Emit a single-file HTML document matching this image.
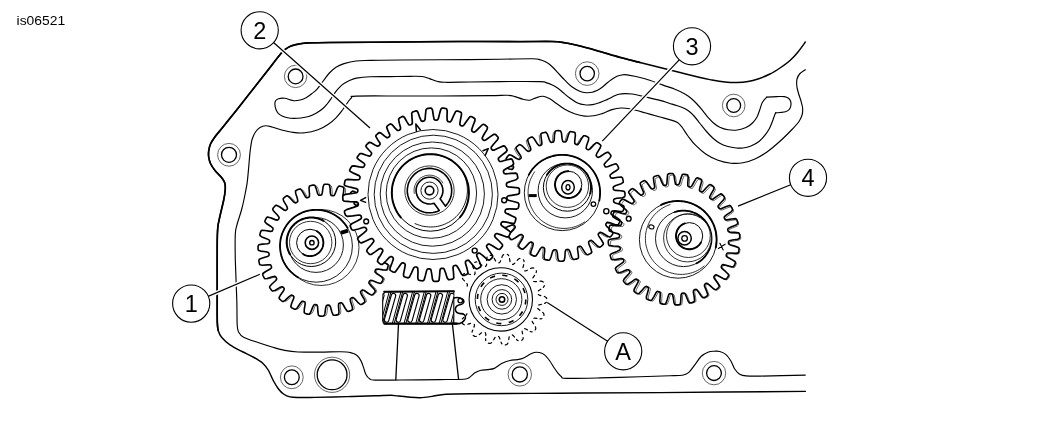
<!DOCTYPE html>
<html lang="en">
<head>
<meta charset="utf-8">
<title>is06521</title>
<style>
html,body{margin:0;padding:0;background:#fff;}
body{width:1049px;height:433px;overflow:hidden;font-family:"Liberation Sans",sans-serif;}
svg{display:block;}
</style>
</head>
<body>
<svg width="1049" height="433" viewBox="0 0 1049 433">
<defs><filter id="ga" x="-20%" y="-20%" width="140%" height="140%" color-interpolation-filters="sRGB"><feOffset dx="0" dy="0"/></filter></defs>
<rect width="1049" height="433" fill="#fff"/>
<g id="housing">
<path d="M805.3 42C804.1 43.7 800.5 48.9 798 52C795.5 55.1 793 57.8 790 60.5C787 63.2 783.3 65.8 780 68C776.7 70.2 773.7 72.2 770 74C766.3 75.8 761.7 77.8 758 79C754.3 80.2 751.5 80.9 748 81.5C744.5 82.1 740.8 82.4 737 82.5C733.2 82.6 729.2 82.4 725 82C720.8 81.6 716.2 80.8 712 80C707.8 79.2 705.3 78.8 700 77.5C694.7 76.2 686.7 74.2 680 72.5C673.3 70.8 666.7 69.2 660 67.5C653.3 65.8 646.7 64.2 640 62.5C633.3 60.8 626.7 59.2 620 57.4C613.3 55.6 606.3 53.3 600 51.5C593.7 49.7 587.7 47.9 582 46.5C576.3 45.1 571 43.8 566 43C561 42.2 559.7 41.7 552 41.5C544.3 41.3 535.4 41.6 520 41.6C504.6 41.6 479.5 41.4 459.5 41.5C439.5 41.6 421.6 41.8 400 42C378.4 42.2 345 42.4 330 42.5C315 42.6 315 42.6 310 42.8C305 43 303.2 43.3 300 43.8C296.8 44.3 293.5 45 291 46C288.5 47 286.8 48.2 285 49.5C283.2 50.8 283 51 280.5 54C278 57 273.4 63.1 270 67.5C266.6 71.9 265 73.9 260 80.3C255 86.7 245.8 98.3 240 105.7C234.2 113.1 229.2 119.2 225 124.5C220.8 129.8 216.9 134.2 214.5 137.5C212.1 140.8 211.5 141.8 210.5 144C209.5 146.2 209 148.8 208.7 151C208.4 153.2 208.4 154.9 208.7 157C209 159.1 209.4 161.2 210.5 163.5C211.6 165.8 213.2 168.2 215 170.5C216.8 172.8 219.9 175.4 221.5 177.5C223.1 179.6 224.2 180.9 224.8 183C225.4 185.1 225.4 187.2 225.2 190C225 192.8 224.6 195.7 223.7 200C222.8 204.3 221 211.4 220 216C219 220.6 218.3 222.7 217.8 227.5C217.3 232.3 217.3 233.8 217.2 245C217.1 256.2 217.2 282.2 217.2 295C217.2 307.8 217.1 316.1 217.3 322C217.5 327.9 217.4 327.9 218.2 330.5C218.9 333.1 219.8 335.1 221.8 337.5C223.8 339.9 226.6 342.5 230 344.8C233.4 347.1 238 349.4 242 351.5C246 353.6 250.5 355.5 254 357.5C257.5 359.5 260.6 361.3 263 363.5C265.4 365.7 266.8 367.6 268.5 370.5C270.2 373.4 271.8 377.9 273.5 381C275.2 384.1 276.8 386.8 278.5 389C280.2 391.2 281.6 392.7 283.5 394C285.4 395.3 287.2 396.3 290 396.9C292.8 397.5 295.8 397.4 300 397.5C304.2 397.6 307.2 397.5 315 397.4C322.8 397.2 337 396.9 347 396.6C357 396.3 367.7 396 375 395.8C382.3 395.6 387.3 395.3 391 395.3C394.7 395.3 394.2 395.6 397 395.9C399.8 396.2 404.2 396.7 408 397C411.8 397.3 416 397.8 420 397.7C424 397.6 427.7 397 432 396.4C436.3 395.8 439.7 394.6 446 394.2C452.3 393.8 451 394 470 393.8C489 393.6 528.3 393.4 560 393.2C591.7 393 619.1 392.9 660 392.6C700.9 392.3 781.1 391.6 805.3 391.4" fill="none" stroke="#000" stroke-width="1.45" stroke-linecap="round" stroke-linejoin="round" />
<path d="M640 62.5C636.7 61.6 626.7 59.2 620 57.4C613.3 55.6 606.3 53.3 600 51.5C593.7 49.7 587.7 47.9 582 46.5C576.3 45.1 571 43.8 566 43C561 42.2 559.7 41.7 552 41.5C544.3 41.3 535.4 41.6 520 41.6C504.6 41.6 479.5 41.4 459.5 41.5C439.5 41.6 421.6 41.8 400 42C378.4 42.2 345 42.4 330 42.5C315 42.6 315 42.6 310 42.8C305 43 303.2 43.3 300 43.8C296.8 44.3 293.5 45 291 46C288.5 47 286.8 48.2 285 49.5C283.2 50.8 283 51 280.5 54C278 57 273.4 63.1 270 67.5C266.6 71.9 265 73.9 260 80.3C255 86.7 245.8 98.3 240 105.7C234.2 113.1 229.2 119.2 225 124.5C220.8 129.8 216.9 134.2 214.5 137.5C212.1 140.8 211.5 141.8 210.5 144C209.5 146.2 209 148.8 208.7 151C208.4 153.2 208.4 154.9 208.7 157C209 159.1 209.4 161.2 210.5 163.5C211.6 165.8 213.2 168.2 215 170.5C216.8 172.8 219.9 175.4 221.5 177.5C223.1 179.6 224.2 180.9 224.8 183C225.4 185.1 225.4 187.2 225.2 190C225 192.8 224.6 195.7 223.7 200C222.8 204.3 221 211.4 220 216C219 220.6 218.3 222.7 217.8 227.5C217.3 232.3 217.3 233.8 217.2 245C217.1 256.2 217.2 282.2 217.2 295C217.2 307.8 217.1 316.1 217.3 322C217.5 327.9 218 329.1 218.2 330.5" fill="none" stroke="#000" stroke-width="1.7" stroke-linecap="round" stroke-linejoin="round" />
<path d="M805.3 69.7C804.4 70.3 801.4 72 800 73.5C798.6 75 797.5 76.9 797 79C796.5 81.1 796.6 83.7 796.8 86C797 88.3 797.7 90.5 798.4 93C799.1 95.5 800.3 98.5 801 101C801.7 103.5 802.4 105.8 802.6 108C802.8 110.2 802.8 112.2 802.2 114.5C801.6 116.8 800.7 119 799 121.5C797.3 124 795.3 126.1 792 129.5C788.7 132.9 783.6 138.1 779.4 141.8C775.2 145.6 771.1 149.1 767 152C762.9 154.9 759 157.2 755 159C751 160.8 747 162.1 743 162.8C739 163.5 735.2 163.6 731 163.2C726.8 162.8 722.2 161.8 718 160.3C713.8 158.8 709.5 156.5 705.7 154C702 151.5 698.5 148.2 695.5 145.2C692.5 142.2 690.2 138.9 688 136C685.8 133.1 684 129.8 682.3 127.5C680.5 125.2 679.6 123.8 677.5 122.5C675.4 121.2 672.4 120.5 669.5 119.6C666.6 118.7 664.1 118.1 660 117C655.9 115.9 650.1 114.2 645 112.8C639.9 111.4 633.6 109.6 629.6 108.8C625.6 108 623.9 107.9 621 108C618.1 108.1 615.1 108.7 612 109.6C608.9 110.5 605.2 112.6 602.2 113.6C599.2 114.6 596.9 115.4 594 115.8C591.1 116.2 588 116.4 584.7 116.1C581.5 115.8 577.8 114.9 574.5 113.8C571.2 112.7 567.8 111 564.8 109.3C561.8 107.6 559 105.2 556.5 103.5C554 101.8 552 100 549.8 98.8C547.5 97.6 545.2 96.5 543 96.3C540.8 96.1 538.7 96.9 536.5 97.6C534.3 98.2 532 99.9 529.8 100.2C527.5 100.5 525.5 99.9 523 99.3C520.5 98.7 517.6 97.3 515 96.6C512.4 95.9 511.6 95.5 507.4 95.3C503.2 95.1 501.2 95.5 490 95.6C478.8 95.7 455 95.9 440 96C425 96.1 414 96 400 96C386 96 364.1 95.8 356 96.1C347.9 96.4 352.8 96.7 351.5 97.7C350.2 98.7 349.5 100 348 102C346.5 104 344.5 107.4 342.5 110C340.5 112.6 338.4 115.4 336 117.8C333.6 120.2 331 122.5 328 124.5C325 126.5 321.9 128.4 318 129.8C314.1 131.2 309 132.4 304.8 132.8C300.6 133.2 296.9 132.9 293 132.4C289.1 131.9 285.1 130.9 281.6 130C278.1 129.1 274.7 127.7 272 127C269.3 126.3 267.5 125.7 265.5 125.8C263.5 125.9 261.7 126.6 260 127.6C258.3 128.6 256.8 130.1 255.5 132C254.2 133.9 253.1 136 252.2 139C251.3 142 250.9 145.4 250.3 149.9C249.7 154.4 249.3 160.6 248.8 166C248.3 171.4 247.9 177.1 247.2 182.3C246.5 187.5 245.4 192.4 244.5 197C243.6 201.6 242.7 205.5 241.5 210C240.3 214.5 238.2 220 237.2 224C236.2 228 235.6 228 235.3 234C235 240 235.1 249 235.3 260C235.6 271 236.5 289.2 236.8 300C237.1 310.8 236.9 319.7 237.2 325C237.5 330.3 237.5 330 238.6 332C239.7 334 240.4 335.4 243.6 337.2C246.8 338.9 253.3 340.9 258 342.5C262.7 344.1 267.6 345.7 272 347C276.4 348.3 280.4 349.6 284.7 350.4C289 351.2 292.1 351.7 298 352C303.9 352.3 312.9 352.1 320 352.1C327.1 352.1 335.7 351.7 340.8 351.8C345.9 351.9 347.8 352 350.5 352.6C353.2 353.2 355.1 353.9 356.8 355.3C358.6 356.7 359.9 358.9 361 360.9C362.1 362.9 362.7 365.1 363.5 367.4C364.3 369.7 364.9 372.6 365.9 374.5C366.9 376.4 368.1 377.9 369.6 378.8C371.1 379.7 369.7 379.9 374.8 380.1C379.9 380.3 389.1 380.1 400 380C410.9 379.9 429.3 379.7 440 379.6C450.7 379.5 459.2 379.5 464 379.2C468.8 378.9 467.2 378.8 469 377.7C470.8 376.6 472.9 374.1 474.9 372.8C476.9 371.6 478.8 370.7 481 370.2C483.2 369.7 485.8 369.9 488 369.6C490.2 369.3 492 369.4 494.3 368.4C496.6 367.4 499 364.8 501.6 363.5C504.2 362.2 507.4 361.1 510 360.5C512.6 359.9 514.8 360 517 359.6C519.2 359.2 520.7 359.3 523 358.3C525.3 357.3 528.8 354.8 531 353.8C533.2 352.8 534.3 352.2 536.2 352.2C538.1 352.2 540.8 352.8 542.5 353.6C544.2 354.4 545.2 355.5 546.5 356.8C547.8 358.1 548.7 359.3 550 361.2C551.3 363.1 552.9 365.9 554.3 368C555.7 370.1 557.1 372.1 558.3 373.6C559.5 375.1 560.2 376 561.5 376.8C562.8 377.6 559.6 378.2 566 378.4C572.4 378.6 587.7 378.2 600 377.9C612.3 377.6 628.3 377 640 376.7C651.7 376.4 663 376.1 670 375.8C677 375.6 679.2 375.7 682.3 375.2C685.4 374.7 686.5 374.3 688.6 372.6C690.7 370.9 692.7 367.6 694.8 364.9C696.9 362.2 698.7 358.6 701 356.5C703.3 354.4 706.2 352.9 708.5 352C710.8 351.1 712.6 351.3 714.5 351.2C716.4 351.1 717.9 350.9 719.8 351.5C721.7 352.1 724.1 353 726 354.6C727.9 356.2 729.5 358.8 731 361.2C732.5 363.6 733.2 366.8 734.7 369C736.2 371.2 737.8 373.1 739.7 374.2C741.6 375.3 742.6 375.6 746 375.9C749.4 376.2 750.1 376.2 760 376.1C769.9 376 797.8 375.3 805.3 375.1" fill="none" stroke="#000" stroke-width="1.15" stroke-linecap="round" stroke-linejoin="round" />
<path d="M766.7 97.1C768.4 97 774 96.7 777 96.6C780 96.5 782.5 96.3 784.4 96.6C786.3 96.9 787.5 97.5 788.5 98.3C789.5 99.1 790.3 100.3 790.7 101.5C791.1 102.7 791.1 104.2 790.9 105.5C790.7 106.8 790.2 108.2 789.3 109.3C788.4 110.3 787 111.3 785.5 111.8C784 112.3 781.6 112.3 780 112.5C778.4 112.7 776.3 112.8 775.6 112.8" fill="none" stroke="#000" stroke-width="1.15" stroke-linecap="round" stroke-linejoin="round" />
<path d="M775.6 112.8C775.3 113.5 774.6 115.4 774 117C773.4 118.6 772.8 120.5 772 122.5C771.2 124.5 770.5 126.6 769.3 128.7C768.1 130.8 766.7 133.1 765 135.2C763.3 137.3 761.3 139.7 759 141.5C756.7 143.3 753.7 144.9 751 146C748.3 147.1 745.5 147.7 743 148C740.5 148.3 738.9 148.3 736.2 148C733.5 147.7 729.7 147 727 146.2C724.3 145.4 722.1 144.5 719.8 143.2C717.5 141.9 715.5 140.4 713.3 138.5C711.1 136.6 708.7 134 706.5 131.5C704.3 129 702 126 700 123.5C698 121 696.3 118.5 694.5 116.5C692.7 114.5 690.8 112.7 689 111.3C687.2 109.9 685.4 108.9 683.5 108C681.6 107.1 679.8 106.6 677.4 105.8C675 105 671.9 104.1 669 103.2C666.1 102.3 664 101.5 660 100.4C656 99.3 649.7 97.9 645 96.8C640.3 95.7 635.4 94.5 632 94C628.6 93.5 626.8 93.6 624.6 93.6C622.4 93.6 620.6 93.8 619 94.2C617.4 94.6 616.7 94.9 614.7 95.8C612.7 96.7 609.5 98.5 607 99.6C604.5 100.7 602.1 101.8 599.7 102.6C597.3 103.4 595 104.2 592.5 104.6C590 105 587.3 105.1 584.7 104.8C582.1 104.5 579.5 103.8 577 102.7C574.5 101.6 572 99.7 569.7 98C567.4 96.3 565 94.2 563 92.5C561 90.8 559.3 89.2 557.5 88C555.7 86.8 554.2 85.9 552.3 85C550.4 84.1 548.1 83.2 546 82.6C543.9 82 547.5 81.8 539.8 81.6C532.1 81.4 511.6 81.5 500 81.6C488.4 81.7 479.2 81.9 470 82C460.8 82.1 450.5 82.4 445 82.3C439.5 82.2 439.6 81.9 437 81.3C434.4 80.7 432 79.4 429.5 78.6C427 77.8 425.2 76.9 422 76.5C418.8 76.1 415.3 76.3 410 76.3C404.7 76.3 396.7 76.5 390 76.6C383.3 76.7 375.6 76.5 370 76.8C364.4 77 359.8 77.5 356.4 78.1C353 78.7 351.6 79.6 349.5 80.5C347.4 81.4 345.7 82.5 344 83.6C342.3 84.7 340.9 85.9 339.5 87.3C338.1 88.7 336.9 90 335.6 91.8C334.3 93.6 332.9 96 331.5 98C330.1 100 328.9 101.8 327.5 103.5C326.1 105.2 325 106.7 323.2 108.3C321.4 109.9 318.9 111.6 316.5 113C314.1 114.4 311.2 115.7 308.6 116.5C306 117.3 303.4 117.7 301 118C298.6 118.3 296.2 118.4 294 118.4C291.8 118.4 289.4 118.2 287.5 117.8C285.6 117.4 284.1 117 282.6 116.3C281.1 115.6 279.6 114.8 278.5 113.7C277.4 112.6 276.6 111 276 109.5C275.4 108 275 106 274.9 104.5C274.8 103 275 101.8 275.6 100.8C276.2 99.8 277 99.1 278.5 98.7C280 98.3 282.1 98 284.7 98.3C287.3 98.6 291.3 100.5 294 100.7C296.7 101 298.9 100.3 301 99.8C303.1 99.3 304.7 98.5 306.5 97.5C308.3 96.5 310.3 94.9 312 93.5C313.7 92.1 315 91.4 316.9 89.3C318.8 87.2 321.1 83.7 323.2 81C325.3 78.3 327.3 75.3 329.4 73C331.5 70.7 333.6 68.9 336 67.3C338.4 65.7 340.7 64.7 344 63.6C347.3 62.6 351.7 61.5 356 61C360.3 60.5 362.7 60.6 370 60.4C377.3 60.2 388.3 60.1 400 60C411.7 59.9 423.3 59.9 440 59.8C456.7 59.7 484.6 59.4 500 59.2C515.4 59 525.5 58.7 532.3 58.8C539.1 58.9 538.5 59.3 541 60C543.5 60.7 545.3 61.5 547.3 62.8C549.3 64 551 65.6 553 67.5C555 69.4 557 71.9 559 74C561 76.1 562.7 78.1 564.8 80.2C566.9 82.3 569 84.7 571.5 86.5C574 88.3 577.3 90.2 579.7 91.2C582.1 92.2 583.9 92.5 586 92.7C588.1 92.9 590.3 92.7 592.2 92.3C594.1 91.9 595.8 91 597.5 90.2C599.2 89.4 600.5 88.5 602.2 87.2C604 85.9 605.9 83.8 608 82.2C610.1 80.6 612.6 78.6 614.7 77.4C616.8 76.2 618.4 75.6 620.5 75.2C622.6 74.8 623 74.3 627.1 74.9C631.2 75.5 639.1 77.1 645 78.8C650.9 80.5 657.4 83.2 662.4 84.9C667.4 86.7 671.2 87.8 675 89.3C678.8 90.8 682.2 92.5 684.9 94C687.6 95.5 689.1 96.6 691 98.2C692.9 99.8 694.6 101.5 696.5 103.5C698.4 105.5 700.4 107.9 702.3 110.2C704.2 112.5 706.1 115.2 708 117.3C709.9 119.4 711.5 121.3 713.5 123C715.5 124.7 717.4 126.2 719.8 127.3C722.2 128.4 725.1 129.4 728 129.8C730.9 130.2 734.3 130.4 737.3 130C740.3 129.6 743.5 128.7 746 127.5C748.5 126.3 750.7 124.8 752.5 123C754.3 121.2 755.8 119.2 757 117C758.2 114.8 758.8 112.4 759.7 110C760.6 107.6 761.1 104.7 762.3 102.5C763.5 100.3 766 98 766.7 97.1" fill="none" stroke="#000" stroke-width="1.15" stroke-linecap="round" stroke-linejoin="round" />
<circle cx="295.6" cy="76.4" r="11.2" fill="none" stroke="#000" stroke-width="0.6" />
<circle cx="295.6" cy="76.4" r="7.4" fill="none" stroke="#000" stroke-width="1.3" />
<circle cx="229" cy="154.8" r="11.4" fill="none" stroke="#000" stroke-width="0.6" />
<circle cx="229" cy="154.8" r="7.5" fill="none" stroke="#000" stroke-width="1.3" />
<circle cx="291.8" cy="377.3" r="11.4" fill="none" stroke="#000" stroke-width="0.6" />
<circle cx="291.8" cy="377.3" r="7.4" fill="none" stroke="#000" stroke-width="1.3" />
<circle cx="519.8" cy="374.4" r="11.7" fill="none" stroke="#000" stroke-width="0.6" />
<circle cx="519.8" cy="374.4" r="7.6" fill="none" stroke="#000" stroke-width="1.3" />
<circle cx="714" cy="373.1" r="11.7" fill="none" stroke="#000" stroke-width="0.6" />
<circle cx="714" cy="373.1" r="7.4" fill="none" stroke="#000" stroke-width="1.3" />
<circle cx="587.2" cy="73.6" r="11.8" fill="none" stroke="#000" stroke-width="0.6" />
<circle cx="587.2" cy="73.6" r="7.2" fill="none" stroke="#000" stroke-width="1.3" />
<circle cx="733.7" cy="105.5" r="11.3" fill="none" stroke="#000" stroke-width="0.6" />
<circle cx="733.7" cy="105.5" r="6.9" fill="none" stroke="#000" stroke-width="1.3" />
<circle cx="332.1" cy="374.8" r="17.6" fill="none" stroke="#000" stroke-width="0.6" />
<circle cx="332.1" cy="374.8" r="14.9" fill="none" stroke="#000" stroke-width="1.3" />
</g>
<g id="gears">
<path d="M326 185.5L326.9 185.2L327.8 185.2L328.7 185.2L329.7 185.3L330.6 185.4L331.4 186L332 189.3L332.3 194.5L332.9 196.1L333.6 196.5L334.4 196.6L335.1 196.7L336 196.4L337.2 194.2L339.1 189.1L340.5 187.2L341.4 187.1L342.3 187.2L343.2 187.5L344.1 187.7L344.9 188.1L345.6 188.9L345.5 192.2L344.6 197.3L344.8 199L345.5 199.5L346.2 199.8L346.9 200.1L347.8 200L349.5 198.1L352.5 193.5L354.2 192L355.1 192.1L356 192.5L356.8 192.9L357.6 193.3L358.4 193.8L358.9 194.8L358 198L356 202.8L355.8 204.5L356.3 205.1L356.9 205.6L357.6 206L358.5 206.1L360.5 204.6L364.5 200.8L366.5 199.7L367.4 200L368.2 200.6L368.9 201.2L369.5 201.8L370.2 202.5L370.5 203.5L368.9 206.4L365.9 210.6L365.3 212.3L365.7 213L366.1 213.6L366.7 214.1L367.5 214.4L369.9 213.4L374.6 210.6L376.8 210L377.6 210.5L378.2 211.2L378.8 211.9L379.3 212.7L379.7 213.5L379.8 214.6L377.6 217.1L373.7 220.5L372.8 222L373 222.8L373.4 223.5L373.8 224.1L374.5 224.6L377 224.1L382.2 222.4L384.5 222.3L385.2 223L385.6 223.8L386 224.7L386.4 225.5L386.6 226.4L386.4 227.4L383.7 229.4L379.2 231.9L378 233.1L378 233.9L378.2 234.7L378.5 235.4L379.1 236L381.6 236.2L387 235.7L389.3 236L389.8 236.9L390.1 237.8L390.3 238.7L390.4 239.6L390.5 240.5L390.1 241.5L387 242.8L382 244.2L380.6 245.1L380.4 245.9L380.4 246.7L380.5 247.4L381 248.2L383.4 248.9L388.8 249.6L391 250.5L391.3 251.4L391.3 252.3L391.3 253.2L391.2 254.2L391.1 255.1L390.5 255.9L387.2 256.5L382 256.8L380.4 257.4L380 258.1L379.9 258.9L379.8 259.6L380.1 260.5L382.3 261.7L387.4 263.6L389.3 265L389.4 265.9L389.3 266.8L389 267.7L388.8 268.6L388.4 269.4L387.6 270.1L384.3 270L379.2 269.1L377.5 269.3L377 270L376.7 270.7L376.4 271.4L376.5 272.3L378.4 274L383 277L384.5 278.7L384.4 279.6L384 280.5L383.6 281.3L383.2 282.1L382.7 282.9L381.7 283.4L378.5 282.5L373.7 280.5L372 280.3L371.4 280.8L370.9 281.4L370.5 282.1L370.4 283L371.9 285L375.7 289L376.8 291L376.5 291.9L375.9 292.7L375.3 293.4L374.7 294L374 294.7L373 295L370.1 293.4L365.9 290.4L364.2 289.8L363.5 290.2L362.9 290.6L362.4 291.2L362.1 292L363.1 294.4L365.9 299.1L366.5 301.3L366 302.1L365.3 302.7L364.6 303.3L363.8 303.8L363 304.2L361.9 304.3L359.4 302.1L356 298.2L354.5 297.3L353.7 297.5L353 297.9L352.4 298.3L351.9 299L352.4 301.5L354.1 306.7L354.2 309L353.5 309.7L352.7 310.1L351.8 310.5L351 310.9L350.1 311.1L349.1 310.9L347.1 308.2L344.6 303.7L343.4 302.5L342.6 302.5L341.8 302.7L341.1 303L340.5 303.6L340.3 306.1L340.8 311.5L340.5 313.8L339.6 314.3L338.7 314.6L337.8 314.8L336.9 314.9L336 315L335 314.6L333.7 311.5L332.3 306.5L331.4 305.1L330.6 304.9L329.8 304.9L329.1 305L328.3 305.5L327.6 307.9L326.9 313.3L326 315.5L325.1 315.8L324.2 315.8L323.3 315.8L322.3 315.7L321.4 315.6L320.6 315L320 311.7L319.7 306.5L319.1 304.9L318.4 304.5L317.6 304.4L316.9 304.3L316 304.6L314.8 306.8L312.9 311.9L311.5 313.8L310.6 313.9L309.7 313.8L308.8 313.5L307.9 313.3L307.1 312.9L306.4 312.1L306.5 308.8L307.4 303.7L307.2 302L306.5 301.5L305.8 301.2L305.1 300.9L304.2 301L302.5 302.9L299.5 307.5L297.8 309L296.9 308.9L296 308.5L295.2 308.1L294.4 307.7L293.6 307.2L293.1 306.2L294 303L296 298.2L296.2 296.5L295.7 295.9L295.1 295.4L294.4 295L293.5 294.9L291.5 296.4L287.5 300.2L285.5 301.3L284.6 301L283.8 300.4L283.1 299.8L282.5 299.2L281.8 298.5L281.5 297.5L283.1 294.6L286.1 290.4L286.7 288.7L286.3 288L285.9 287.4L285.3 286.9L284.5 286.6L282.1 287.6L277.4 290.4L275.2 291L274.4 290.5L273.8 289.8L273.2 289.1L272.7 288.3L272.3 287.5L272.2 286.4L274.4 283.9L278.3 280.5L279.2 279L279 278.2L278.6 277.5L278.2 276.9L277.5 276.4L275 276.9L269.8 278.6L267.5 278.7L266.8 278L266.4 277.2L266 276.3L265.6 275.5L265.4 274.6L265.6 273.6L268.3 271.6L272.8 269.1L274 267.9L274 267.1L273.8 266.3L273.5 265.6L272.9 265L270.4 264.8L265 265.3L262.7 265L262.2 264.1L261.9 263.2L261.7 262.3L261.6 261.4L261.5 260.5L261.9 259.5L265 258.2L270 256.8L271.4 255.9L271.6 255.1L271.6 254.3L271.5 253.6L271 252.8L268.6 252.1L263.2 251.4L261 250.5L260.7 249.6L260.7 248.7L260.7 247.8L260.8 246.8L260.9 245.9L261.5 245.1L264.8 244.5L270 244.2L271.6 243.6L272 242.9L272.1 242.1L272.2 241.4L271.9 240.5L269.7 239.3L264.6 237.4L262.7 236L262.6 235.1L262.7 234.2L263 233.3L263.2 232.4L263.6 231.6L264.4 230.9L267.7 231L272.8 231.9L274.5 231.7L275 231L275.3 230.3L275.6 229.6L275.5 228.7L273.6 227L269 224L267.5 222.3L267.6 221.4L268 220.5L268.4 219.7L268.8 218.9L269.3 218.1L270.3 217.6L273.5 218.5L278.3 220.5L280 220.7L280.6 220.2L281.1 219.6L281.5 218.9L281.6 218L280.1 216L276.3 212L275.2 210L275.5 209.1L276.1 208.3L276.7 207.6L277.3 207L278 206.3L279 206L281.9 207.6L286.1 210.6L287.8 211.2L288.5 210.8L289.1 210.4L289.6 209.8L289.9 209L288.9 206.6L286.1 201.9L285.5 199.7L286 198.9L286.7 198.3L287.4 197.7L288.2 197.2L289 196.8L290.1 196.7L292.6 198.9L296 202.8L297.5 203.7L298.3 203.5L299 203.1L299.6 202.7L300.1 202L299.6 199.5L297.9 194.3L297.8 192L298.5 191.3L299.3 190.9L300.2 190.5L301 190.1L301.9 189.9L302.9 190.1L304.9 192.8L307.4 197.3L308.6 198.5L309.4 198.5L310.2 198.3L310.9 198L311.5 197.4L311.7 194.9L311.2 189.5L311.5 187.2L312.4 186.7L313.3 186.4L314.2 186.2L315.1 186.1L316 186L317 186.4L318.3 189.5L319.7 194.5L320.6 195.9L321.4 196.1L322.2 196.1L322.9 196L323.7 195.5L324.4 193.1L325.1 187.7Z" fill="none" stroke="#000" stroke-width="0.6" stroke-linecap="round" stroke-linejoin="round" />
<path d="M557.9 131.9L558.8 132.2L559.6 134.5L560.3 140L560.9 142.5L561.7 143L562.4 143.1L563.2 143.2L563.9 143L564.9 141.5L566.4 136.4L567.7 133.3L568.7 132.9L569.6 132.9L570.5 133.1L571.4 133.3L572.3 133.5L573.1 134.1L573.4 136.4L572.8 142L572.9 144.6L573.5 145.2L574.2 145.5L574.9 145.7L575.7 145.7L577 144.4L579.5 139.8L581.6 137L582.6 136.9L583.5 137.1L584.3 137.5L585.1 137.9L585.9 138.3L586.6 139L586.4 141.4L584.5 146.7L584 149.2L584.5 149.9L585.1 150.4L585.8 150.7L586.6 150.9L588.1 150L591.6 146L594.2 143.8L595.3 143.8L596 144.3L596.8 144.8L597.5 145.4L598.2 146L598.7 146.8L597.9 149.1L595 153.8L593.9 156.2L594.2 157L594.7 157.6L595.3 158.1L596 158.4L597.7 157.8L602 154.8L605 153.2L606 153.5L606.7 154.1L607.3 154.8L607.9 155.5L608.4 156.2L608.7 157.1L607.5 159.2L603.5 163.2L602 165.2L602.1 166.1L602.4 166.8L602.9 167.4L603.5 167.8L605.3 167.7L610.2 165.7L613.5 164.8L614.4 165.3L614.9 166L615.3 166.8L615.7 167.6L616.1 168.5L616.2 169.4L614.5 171.2L609.8 174.1L607.8 175.8L607.7 176.7L607.9 177.4L608.2 178.1L608.7 178.7L610.5 178.9L615.7 178.1L619.1 177.9L619.9 178.6L620.3 179.5L620.5 180.4L620.7 181.2L620.9 182.1L620.8 183.1L618.8 184.4L613.5 186.3L611.2 187.4L610.9 188.3L610.9 189L611.1 189.8L611.4 190.5L613.1 191.1L618.4 191.4L621.7 192L622.4 192.9L622.5 193.8L622.5 194.7L622.5 195.6L622.5 196.5L622.2 197.4L619.9 198.2L614.4 198.9L611.9 199.5L611.4 200.3L611.3 201L611.2 201.8L611.4 202.5L612.9 203.5L618 205L621.1 206.3L621.5 207.3L621.5 208.2L621.3 209.1L621.1 210L620.9 210.9L620.3 211.7L618 212L612.4 211.4L609.8 211.5L609.2 212.1L608.9 212.8L608.7 213.5L608.7 214.3L610 215.6L614.6 218.1L617.4 220.2L617.5 221.2L617.3 222.1L616.9 222.9L616.5 223.7L616.1 224.5L615.4 225.2L613 225L607.7 223.1L605.2 222.6L604.5 223.1L604 223.7L603.7 224.4L603.5 225.2L604.4 226.7L608.4 230.2L610.6 232.8L610.6 233.9L610.1 234.6L609.6 235.4L609 236.1L608.4 236.8L607.6 237.3L605.3 236.5L600.6 233.6L598.2 232.5L597.4 232.8L596.8 233.3L596.3 233.9L596 234.6L596.6 236.3L599.6 240.6L601.2 243.6L600.9 244.6L600.3 245.3L599.6 245.9L598.9 246.5L598.2 247L597.3 247.3L595.2 246.1L591.2 242.1L589.2 240.6L588.3 240.7L587.6 241L587 241.5L586.6 242.1L586.7 243.9L588.7 248.8L589.6 252.1L589.1 253L588.4 253.5L587.6 253.9L586.8 254.3L585.9 254.7L585 254.8L583.2 253.1L580.3 248.4L578.6 246.4L577.7 246.3L577 246.5L576.3 246.8L575.7 247.3L575.5 249.1L576.3 254.3L576.5 257.7L575.8 258.5L574.9 258.9L574 259.1L573.2 259.3L572.3 259.5L571.3 259.4L570 257.4L568.1 252.1L567 249.8L566.1 249.5L565.4 249.5L564.6 249.7L563.9 250L563.3 251.7L563 257L562.4 260.3L561.5 261L560.6 261.1L559.7 261.1L558.8 261.1L557.9 261.1L557 260.8L556.2 258.5L555.5 253L554.9 250.5L554.1 250L553.4 249.9L552.6 249.8L551.9 250L550.9 251.5L549.4 256.6L548.1 259.7L547.1 260.1L546.2 260.1L545.3 259.9L544.4 259.7L543.5 259.5L542.7 258.9L542.4 256.6L543 251L542.9 248.4L542.3 247.8L541.6 247.5L540.9 247.3L540.1 247.3L538.8 248.6L536.3 253.2L534.2 256L533.2 256.1L532.3 255.9L531.5 255.5L530.7 255.1L529.9 254.7L529.2 254L529.4 251.6L531.3 246.3L531.8 243.8L531.3 243.1L530.7 242.6L530 242.3L529.2 242.1L527.7 243L524.2 247L521.6 249.2L520.5 249.2L519.8 248.7L519 248.2L518.3 247.6L517.6 247L517.1 246.2L517.9 243.9L520.8 239.2L521.9 236.8L521.6 236L521.1 235.4L520.5 234.9L519.8 234.6L518.1 235.2L513.8 238.2L510.8 239.8L509.8 239.5L509.1 238.9L508.5 238.2L507.9 237.5L507.4 236.8L507.1 235.9L508.3 233.8L512.3 229.8L513.8 227.8L513.7 226.9L513.4 226.2L512.9 225.6L512.3 225.2L510.5 225.3L505.6 227.3L502.3 228.2L501.4 227.7L500.9 227L500.5 226.2L500.1 225.4L499.7 224.5L499.6 223.6L501.3 221.8L506 218.9L508 217.2L508.1 216.3L507.9 215.6L507.6 214.9L507.1 214.3L505.3 214.1L500.1 214.9L496.7 215.1L495.9 214.4L495.5 213.5L495.3 212.6L495.1 211.8L494.9 210.9L495 209.9L497 208.6L502.3 206.7L504.6 205.6L504.9 204.7L504.9 204L504.7 203.2L504.4 202.5L502.7 201.9L497.4 201.6L494.1 201L493.4 200.1L493.3 199.2L493.3 198.3L493.3 197.4L493.3 196.5L493.6 195.6L495.9 194.8L501.4 194.1L503.9 193.5L504.4 192.7L504.5 192L504.6 191.2L504.4 190.5L502.9 189.5L497.8 188L494.7 186.7L494.3 185.7L494.3 184.8L494.5 183.9L494.7 183L494.9 182.1L495.5 181.3L497.8 181L503.4 181.6L506 181.5L506.6 180.9L506.9 180.2L507.1 179.5L507.1 178.7L505.8 177.4L501.2 174.9L498.4 172.8L498.3 171.8L498.5 170.9L498.9 170.1L499.3 169.3L499.7 168.5L500.4 167.8L502.8 168L508.1 169.9L510.6 170.4L511.3 169.9L511.8 169.3L512.1 168.6L512.3 167.8L511.4 166.3L507.4 162.8L505.2 160.2L505.2 159.1L505.7 158.4L506.2 157.6L506.8 156.9L507.4 156.2L508.2 155.7L510.5 156.5L515.2 159.4L517.6 160.5L518.4 160.2L519 159.7L519.5 159.1L519.8 158.4L519.2 156.7L516.2 152.4L514.6 149.4L514.9 148.4L515.5 147.7L516.2 147.1L516.9 146.5L517.6 146L518.5 145.7L520.6 146.9L524.6 150.9L526.6 152.4L527.5 152.3L528.2 152L528.8 151.5L529.2 150.9L529.1 149.1L527.1 144.2L526.2 140.9L526.7 140L527.4 139.5L528.2 139.1L529 138.7L529.9 138.3L530.8 138.2L532.6 139.9L535.5 144.6L537.2 146.6L538.1 146.7L538.8 146.5L539.5 146.2L540.1 145.7L540.3 143.9L539.5 138.7L539.3 135.3L540 134.5L540.9 134.1L541.8 133.9L542.6 133.7L543.5 133.5L544.5 133.6L545.8 135.6L547.7 140.9L548.8 143.2L549.7 143.5L550.4 143.5L551.2 143.3L551.9 143L552.5 141.3L552.8 136L553.4 132.7L554.3 132L555.2 131.9L556.1 131.9L557 131.9Z" fill="none" stroke="#000" stroke-width="0.6" stroke-linecap="round" stroke-linejoin="round" />
<path d="M675.6 177.1L676.4 182.5L677.1 185.5L677.9 186.1L678.6 186.2L679.4 186.3L680.2 186.1L681 184.9L682.4 180.2L683.7 176.4L684.7 175.8L685.6 175.8L686.5 176L687.4 176.1L688.3 176.4L689.1 176.8L689.6 178.7L689.2 184.2L689.3 187.2L689.9 188L690.6 188.3L691.3 188.5L692.1 188.5L693.2 187.5L695.6 183.2L697.7 179.8L698.8 179.4L699.7 179.7L700.5 180L701.4 180.4L702.2 180.8L702.9 181.4L703 183.4L701.4 188.6L700.7 191.6L701.1 192.5L701.7 192.9L702.4 193.3L703.2 193.4L704.5 192.7L707.7 189L710.6 186.2L711.7 186.1L712.5 186.6L713.3 187.1L714 187.6L714.7 188.2L715.3 188.9L714.9 190.9L712.2 195.6L710.9 198.4L711.1 199.3L711.6 199.9L712.2 200.4L712.9 200.8L714.3 200.4L718.3 197.5L721.7 195.4L722.9 195.5L723.5 196.1L724.2 196.8L724.8 197.5L725.3 198.2L725.7 199.1L724.9 200.9L721.2 204.9L719.3 207.3L719.3 208.3L719.7 208.9L720.1 209.5L720.7 210L722.2 210L726.8 208.1L730.5 206.8L731.6 207.2L732.2 207.9L732.6 208.7L733 209.5L733.4 210.3L733.6 211.2L732.4 212.8L727.9 215.9L725.5 217.9L725.3 218.8L725.5 219.5L725.8 220.2L726.3 220.8L727.8 221.1L732.6 220.2L736.6 219.8L737.6 220.5L737.9 221.3L738.2 222.2L738.4 223L738.6 223.9L738.6 224.9L737.1 226.2L732 228.2L729.2 229.5L728.8 230.4L728.9 231.1L729 231.9L729.3 232.6L730.7 233.2L735.6 233.4L739.6 233.9L740.4 234.7L740.6 235.6L740.6 236.5L740.7 237.5L740.7 238.4L740.4 239.3L738.7 240.2L733.3 241L730.3 241.7L729.7 242.5L729.6 243.2L729.5 244L729.7 244.8L730.9 245.6L735.6 247L739.4 248.3L740 249.3L740 250.2L739.8 251.1L739.7 252L739.4 252.9L739 253.7L737.1 254.2L731.6 253.8L728.6 253.9L727.8 254.5L727.5 255.2L727.3 255.9L727.3 256.7L728.3 257.8L732.6 260.2L736 262.3L736.4 263.4L736.1 264.3L735.8 265.1L735.4 266L735 266.8L734.4 267.5L732.4 267.6L727.2 266L724.2 265.3L723.3 265.7L722.9 266.3L722.5 267L722.4 267.8L723.1 269.1L726.8 272.3L729.6 275.2L729.7 276.3L729.2 277.1L728.7 277.9L728.2 278.6L727.6 279.3L726.9 279.9L724.9 279.5L720.2 276.8L717.4 275.5L716.5 275.7L715.9 276.2L715.4 276.8L715 277.5L715.4 278.9L718.3 282.9L720.4 286.3L720.3 287.5L719.7 288.1L719 288.8L718.3 289.4L717.6 289.9L716.7 290.3L714.9 289.5L710.9 285.8L708.5 283.9L707.5 283.9L706.9 284.3L706.3 284.7L705.8 285.3L705.8 286.8L707.7 291.4L709 295.1L708.6 296.2L707.9 296.8L707.1 297.2L706.3 297.6L705.5 298L704.6 298.2L703 297L699.9 292.5L697.9 290.1L697 289.9L696.3 290.1L695.6 290.4L695 290.9L694.7 292.4L695.6 297.2L696 301.2L695.3 302.2L694.5 302.5L693.6 302.8L692.8 303L691.9 303.2L690.9 303.2L689.6 301.7L687.6 296.6L686.3 293.8L685.4 293.4L684.7 293.5L683.9 293.6L683.2 293.9L682.6 295.3L682.4 300.2L681.9 304.2L681.1 305L680.2 305.2L679.3 305.2L678.3 305.3L677.4 305.3L676.5 305L675.6 303.3L674.8 297.9L674.1 294.9L673.3 294.3L672.6 294.2L671.8 294.1L671 294.3L670.2 295.5L668.8 300.2L667.5 304L666.5 304.6L665.6 304.6L664.7 304.4L663.8 304.3L662.9 304L662.1 303.6L661.6 301.7L662 296.2L661.9 293.2L661.3 292.4L660.6 292.1L659.9 291.9L659.1 291.9L658 292.9L655.6 297.2L653.5 300.6L652.4 301L651.5 300.7L650.7 300.4L649.8 300L649 299.6L648.3 299L648.2 297L649.8 291.8L650.5 288.8L650.1 287.9L649.5 287.5L648.8 287.1L648 287L646.7 287.7L643.5 291.4L640.6 294.2L639.5 294.3L638.7 293.8L637.9 293.3L637.2 292.8L636.5 292.2L635.9 291.5L636.3 289.5L639 284.8L640.3 282L640.1 281.1L639.6 280.5L639 280L638.3 279.6L636.9 280L632.9 282.9L629.5 285L628.3 284.9L627.7 284.3L627 283.6L626.4 282.9L625.9 282.2L625.5 281.3L626.3 279.5L630 275.5L631.9 273.1L631.9 272.1L631.5 271.5L631.1 270.9L630.5 270.4L629 270.4L624.4 272.3L620.7 273.6L619.6 273.2L619 272.5L618.6 271.7L618.2 270.9L617.8 270.1L617.6 269.2L618.8 267.6L623.3 264.5L625.7 262.5L625.9 261.6L625.7 260.9L625.4 260.2L624.9 259.6L623.4 259.3L618.6 260.2L614.6 260.6L613.6 259.9L613.3 259.1L613 258.2L612.8 257.4L612.6 256.5L612.6 255.5L614.1 254.2L619.2 252.2L622 250.9L622.4 250L622.3 249.3L622.2 248.5L621.9 247.8L620.5 247.2L615.6 247L611.6 246.5L610.8 245.7L610.6 244.8L610.6 243.9L610.5 242.9L610.5 242L610.8 241.1L612.5 240.2L617.9 239.4L620.9 238.7L621.5 237.9L621.6 237.2L621.7 236.4L621.5 235.6L620.3 234.8L615.6 233.4L611.8 232.1L611.2 231.1L611.2 230.2L611.4 229.3L611.5 228.4L611.8 227.5L612.2 226.7L614.1 226.2L619.6 226.6L622.6 226.5L623.4 225.9L623.7 225.2L623.9 224.5L623.9 223.7L622.9 222.6L618.6 220.2L615.2 218.1L614.8 217L615.1 216.1L615.4 215.3L615.8 214.4L616.2 213.6L616.8 212.9L618.8 212.8L624 214.4L627 215.1L627.9 214.7L628.3 214.1L628.7 213.4L628.8 212.6L628.1 211.3L624.4 208.1L621.6 205.2L621.5 204.1L622 203.3L622.5 202.5L623 201.8L623.6 201.1L624.3 200.5L626.3 200.9L631 203.6L633.8 204.9L634.7 204.7L635.3 204.2L635.8 203.6L636.2 202.9L635.8 201.5L632.9 197.5L630.8 194.1L630.9 192.9L631.5 192.3L632.2 191.6L632.9 191L633.6 190.5L634.5 190.1L636.3 190.9L640.3 194.6L642.7 196.5L643.7 196.5L644.3 196.1L644.9 195.7L645.4 195.1L645.4 193.6L643.5 189L642.2 185.3L642.6 184.2L643.3 183.6L644.1 183.2L644.9 182.8L645.7 182.4L646.6 182.2L648.2 183.4L651.3 187.9L653.3 190.3L654.2 190.5L654.9 190.3L655.6 190L656.2 189.5L656.5 188L655.6 183.2L655.2 179.2L655.9 178.2L656.7 177.9L657.6 177.6L658.4 177.4L659.3 177.2L660.3 177.2L661.6 178.7L663.6 183.8L664.9 186.6L665.8 187L666.5 186.9L667.3 186.8L668 186.5L668.6 185.1L668.8 180.2L669.3 176.2L670.1 175.4L671 175.2L671.9 175.2L672.9 175.1L673.8 175.1L674.7 175.4Z" fill="none" stroke="#000" stroke-width="0.6" stroke-linecap="round" stroke-linejoin="round" />
<path d="M324 184.6L324.9 184.3L325.9 184.2L326.8 184.3L327.7 184.3L328.6 184.5L329.5 185.1L330.1 188.4L330.4 193.6L331 195.3L331.7 195.6L332.5 195.8L333.2 195.8L334.1 195.5L335.3 193.3L337.3 188.1L338.6 186.2L339.6 186.1L340.5 186.3L341.4 186.5L342.3 186.8L343.1 187.1L343.8 187.9L343.7 191.3L342.8 196.4L343 198.2L343.7 198.7L344.4 199L345.1 199.2L346 199.1L347.7 197.2L350.7 192.6L352.5 191.1L353.4 191.2L354.3 191.6L355.1 192L355.9 192.4L356.7 193L357.2 193.9L356.3 197.2L354.3 202L354.1 203.7L354.6 204.4L355.2 204.8L355.9 205.2L356.8 205.3L358.9 203.8L362.9 200L364.9 198.9L365.8 199.2L366.6 199.8L367.3 200.4L368 201L368.6 201.7L368.9 202.7L367.3 205.7L364.3 209.9L363.7 211.6L364.1 212.3L364.6 212.9L365.1 213.4L366 213.7L368.3 212.8L373.1 209.9L375.3 209.3L376.1 209.8L376.7 210.5L377.3 211.3L377.8 212L378.3 212.8L378.3 213.9L376.1 216.4L372.2 219.9L371.3 221.4L371.5 222.2L371.8 222.9L372.3 223.5L373 224L375.6 223.6L380.8 221.9L383.1 221.7L383.8 222.4L384.2 223.2L384.6 224.1L385 224.9L385.2 225.8L385.1 226.9L382.3 228.9L377.8 231.4L376.5 232.6L376.5 233.5L376.7 234.2L377 234.9L377.6 235.6L380.2 235.7L385.7 235.2L388 235.6L388.5 236.4L388.7 237.3L388.9 238.2L389.1 239.1L389.1 240.1L388.7 241.1L385.6 242.4L380.6 243.8L379.1 244.8L378.9 245.6L378.9 246.3L379.1 247.1L379.5 247.9L382 248.6L387.5 249.3L389.6 250.2L389.9 251.1L390 252.1L389.9 253L389.9 253.9L389.7 254.8L389.1 255.7L385.8 256.3L380.6 256.6L378.9 257.2L378.6 257.9L378.4 258.7L378.4 259.4L378.7 260.3L380.9 261.5L386.1 263.5L388 264.8L388.1 265.8L387.9 266.7L387.7 267.6L387.4 268.5L387.1 269.3L386.3 270L382.9 269.9L377.8 269L376 269.2L375.5 269.9L375.2 270.6L375 271.3L375.1 272.2L377 273.9L381.6 276.9L383.1 278.7L383 279.6L382.6 280.5L382.2 281.3L381.8 282.1L381.2 282.9L380.3 283.4L377 282.5L372.2 280.5L370.5 280.3L369.8 280.8L369.4 281.4L369 282.1L368.9 283L370.4 285.1L374.2 289.1L375.3 291.1L375 292L374.4 292.8L373.8 293.5L373.2 294.2L372.5 294.8L371.5 295.1L368.5 293.5L364.3 290.5L362.6 289.9L361.9 290.3L361.3 290.8L360.8 291.3L360.5 292.2L361.4 294.5L364.3 299.3L364.9 301.5L364.4 302.3L363.7 302.9L362.9 303.5L362.2 304L361.4 304.5L360.3 304.5L357.8 302.3L354.3 298.4L352.8 297.5L352 297.7L351.3 298L350.7 298.5L350.2 299.2L350.6 301.8L352.3 307L352.5 309.3L351.8 310L351 310.4L350.1 310.8L349.3 311.2L348.4 311.4L347.3 311.3L345.3 308.5L342.8 304L341.6 302.7L340.7 302.7L340 302.9L339.3 303.2L338.6 303.8L338.5 306.4L339 311.9L338.6 314.2L337.8 314.7L336.9 314.9L336 315.1L335.1 315.3L334.1 315.3L333.1 314.9L331.8 311.8L330.4 306.8L329.4 305.3L328.6 305.1L327.9 305.1L327.1 305.3L326.3 305.7L325.6 308.2L324.9 313.7L324 315.8L323.1 316.1L322.1 316.2L321.2 316.1L320.3 316.1L319.4 315.9L318.5 315.3L317.9 312L317.6 306.8L317 305.1L316.3 304.8L315.5 304.6L314.8 304.6L313.9 304.9L312.7 307.1L310.7 312.3L309.4 314.2L308.4 314.3L307.5 314.1L306.6 313.9L305.7 313.6L304.9 313.3L304.2 312.5L304.3 309.1L305.2 304L305 302.2L304.3 301.7L303.6 301.4L302.9 301.2L302 301.3L300.3 303.2L297.3 307.8L295.5 309.3L294.6 309.2L293.7 308.8L292.9 308.4L292.1 308L291.3 307.4L290.8 306.5L291.7 303.2L293.7 298.4L293.9 296.7L293.4 296L292.8 295.6L292.1 295.2L291.2 295.1L289.1 296.6L285.1 300.4L283.1 301.5L282.2 301.2L281.4 300.6L280.7 300L280 299.4L279.4 298.7L279.1 297.7L280.7 294.7L283.7 290.5L284.3 288.8L283.9 288.1L283.4 287.5L282.9 287L282 286.7L279.7 287.6L274.9 290.5L272.7 291.1L271.9 290.6L271.3 289.9L270.7 289.1L270.2 288.4L269.7 287.6L269.7 286.5L271.9 284L275.8 280.5L276.7 279L276.5 278.2L276.2 277.5L275.7 276.9L275 276.4L272.4 276.8L267.2 278.5L264.9 278.7L264.2 278L263.8 277.2L263.4 276.3L263 275.5L262.8 274.6L262.9 273.5L265.7 271.5L270.2 269L271.5 267.8L271.5 266.9L271.3 266.2L271 265.5L270.4 264.8L267.8 264.7L262.3 265.2L260 264.8L259.5 264L259.3 263.1L259.1 262.2L258.9 261.3L258.9 260.3L259.3 259.3L262.4 258L267.4 256.6L268.9 255.6L269.1 254.8L269.1 254.1L268.9 253.3L268.5 252.5L266 251.8L260.5 251.1L258.4 250.2L258.1 249.3L258 248.3L258.1 247.4L258.1 246.5L258.3 245.6L258.9 244.7L262.2 244.1L267.4 243.8L269.1 243.2L269.4 242.5L269.6 241.7L269.6 241L269.3 240.1L267.1 238.9L261.9 236.9L260 235.6L259.9 234.6L260.1 233.7L260.3 232.8L260.6 231.9L260.9 231.1L261.7 230.4L265.1 230.5L270.2 231.4L272 231.2L272.5 230.5L272.8 229.8L273 229.1L272.9 228.2L271 226.5L266.4 223.5L264.9 221.7L265 220.8L265.4 219.9L265.8 219.1L266.2 218.3L266.8 217.5L267.7 217L271 217.9L275.8 219.9L277.5 220.1L278.2 219.6L278.6 219L279 218.3L279.1 217.4L277.6 215.3L273.8 211.3L272.7 209.3L273 208.4L273.6 207.6L274.2 206.9L274.8 206.2L275.5 205.6L276.5 205.3L279.5 206.9L283.7 209.9L285.4 210.5L286.1 210.1L286.7 209.6L287.2 209.1L287.5 208.2L286.6 205.9L283.7 201.1L283.1 198.9L283.6 198.1L284.3 197.5L285.1 196.9L285.8 196.4L286.6 195.9L287.7 195.9L290.2 198.1L293.7 202L295.2 202.9L296 202.7L296.7 202.4L297.3 201.9L297.8 201.2L297.4 198.6L295.7 193.4L295.5 191.1L296.2 190.4L297 190L297.9 189.6L298.7 189.2L299.6 189L300.7 189.1L302.7 191.9L305.2 196.4L306.4 197.7L307.3 197.7L308 197.5L308.7 197.2L309.4 196.6L309.5 194L309 188.5L309.4 186.2L310.2 185.7L311.1 185.5L312 185.3L312.9 185.1L313.9 185.1L314.9 185.5L316.2 188.6L317.6 193.6L318.6 195.1L319.4 195.3L320.1 195.3L320.9 195.1L321.7 194.7L322.4 192.2L323.1 186.7Z" fill="#fff" stroke="#000" stroke-width="1.6" stroke-linecap="round" stroke-linejoin="round" />
<path d="M559.7 130.7L560.6 131L561.5 133.3L562.1 138.9L562.8 141.4L563.5 141.9L564.2 142L565 142L565.8 141.8L566.8 140.3L568.3 135.2L569.6 132L570.6 131.6L571.5 131.7L572.4 131.9L573.3 132L574.2 132.3L575 132.8L575.4 135.2L574.7 140.8L574.8 143.4L575.4 144.1L576.1 144.4L576.9 144.6L577.7 144.6L578.9 143.3L581.6 138.6L583.6 135.8L584.7 135.7L585.5 135.9L586.4 136.3L587.2 136.7L588 137.1L588.7 137.8L588.5 140.2L586.6 145.6L586.1 148.1L586.6 148.9L587.2 149.3L587.8 149.7L588.6 149.8L590.2 148.9L593.8 144.9L596.4 142.7L597.4 142.7L598.2 143.2L599 143.7L599.7 144.3L600.4 144.9L600.9 145.7L600.1 148L597.1 152.8L596.1 155.2L596.4 156L596.9 156.6L597.4 157.1L598.2 157.4L599.9 156.8L604.3 153.8L607.3 152.2L608.3 152.4L609 153.1L609.6 153.8L610.2 154.5L610.7 155.2L611 156.1L609.8 158.2L605.8 162.2L604.2 164.3L604.3 165.2L604.7 165.9L605.1 166.5L605.8 167L607.6 166.8L612.5 164.8L615.8 163.8L616.8 164.4L617.3 165.1L617.7 165.9L618.1 166.7L618.5 167.6L618.6 168.6L616.9 170.3L612.1 173.3L610.1 175L610 175.9L610.2 176.6L610.5 177.3L611 177.9L612.8 178.1L618.1 177.3L621.6 177.1L622.4 177.8L622.7 178.7L622.9 179.6L623.1 180.5L623.3 181.4L623.2 182.3L621.2 183.7L615.8 185.5L613.5 186.8L613.2 187.6L613.3 188.3L613.4 189.1L613.8 189.8L615.5 190.4L620.8 190.7L624.2 191.4L624.8 192.2L624.9 193.2L625 194.1L625 195L624.9 195.9L624.6 196.8L622.3 197.7L616.7 198.3L614.2 199L613.7 199.7L613.6 200.4L613.6 201.2L613.8 202L615.3 203L620.4 204.5L623.6 205.8L624 206.8L623.9 207.7L623.7 208.6L623.6 209.5L623.3 210.4L622.8 211.2L620.4 211.6L614.8 210.9L612.2 211L611.5 211.6L611.2 212.3L611 213.1L611 213.9L612.3 215.1L617 217.8L619.8 219.8L619.9 220.9L619.7 221.7L619.3 222.6L618.9 223.4L618.5 224.2L617.8 224.9L615.4 224.7L610 222.8L607.5 222.3L606.7 222.8L606.3 223.4L605.9 224L605.8 224.8L606.7 226.4L610.7 230L612.9 232.6L612.9 233.6L612.4 234.4L611.9 235.2L611.3 235.9L610.7 236.6L609.9 237.1L607.6 236.3L602.8 233.3L600.4 232.3L599.6 232.6L599 233.1L598.5 233.6L598.2 234.4L598.8 236.1L601.8 240.5L603.4 243.5L603.2 244.5L602.5 245.2L601.8 245.8L601.1 246.4L600.4 246.9L599.5 247.2L597.4 246L593.4 242L591.3 240.4L590.4 240.5L589.7 240.9L589.1 241.3L588.6 242L588.8 243.8L590.8 248.7L591.8 252L591.2 253L590.5 253.5L589.7 253.9L588.9 254.3L588 254.7L587 254.8L585.3 253.1L582.3 248.3L580.6 246.3L579.7 246.2L579 246.4L578.3 246.7L577.7 247.2L577.5 249L578.3 254.3L578.5 257.8L577.8 258.6L576.9 258.9L576 259.1L575.1 259.3L574.2 259.5L573.3 259.4L571.9 257.4L570.1 252L568.8 249.7L568 249.4L567.3 249.5L566.5 249.6L565.8 250L565.2 251.7L564.9 257L564.2 260.4L563.4 261L562.4 261.1L561.5 261.2L560.6 261.2L559.7 261.1L558.8 260.8L557.9 258.5L557.3 252.9L556.6 250.4L555.9 249.9L555.2 249.8L554.4 249.8L553.6 250L552.6 251.5L551.1 256.6L549.8 259.8L548.8 260.2L547.9 260.1L547 259.9L546.1 259.8L545.2 259.5L544.4 259L544 256.6L544.7 251L544.6 248.4L544 247.7L543.3 247.4L542.5 247.2L541.7 247.2L540.5 248.5L537.8 253.2L535.8 256L534.7 256.1L533.9 255.9L533 255.5L532.2 255.1L531.4 254.7L530.7 254L530.9 251.6L532.8 246.2L533.3 243.7L532.8 242.9L532.2 242.5L531.6 242.1L530.8 242L529.2 242.9L525.6 246.9L523 249.1L522 249.1L521.2 248.6L520.4 248.1L519.7 247.5L519 246.9L518.5 246.1L519.3 243.8L522.3 239L523.3 236.6L523 235.8L522.5 235.2L522 234.7L521.2 234.4L519.5 235L515.1 238L512.1 239.6L511.1 239.4L510.4 238.7L509.8 238L509.2 237.3L508.7 236.6L508.4 235.7L509.6 233.6L513.6 229.6L515.2 227.5L515.1 226.6L514.7 225.9L514.3 225.3L513.6 224.8L511.8 225L506.9 227L503.6 228L502.6 227.4L502.1 226.7L501.7 225.9L501.3 225.1L500.9 224.2L500.8 223.2L502.5 221.5L507.3 218.5L509.3 216.8L509.4 215.9L509.2 215.2L508.9 214.5L508.4 213.9L506.6 213.7L501.3 214.5L497.8 214.7L497 214L496.7 213.1L496.5 212.2L496.3 211.3L496.1 210.4L496.2 209.5L498.2 208.1L503.6 206.3L505.9 205L506.2 204.2L506.1 203.5L506 202.7L505.6 202L503.9 201.4L498.6 201.1L495.2 200.4L494.6 199.6L494.5 198.6L494.4 197.7L494.4 196.8L494.5 195.9L494.8 195L497.1 194.1L502.7 193.5L505.2 192.8L505.7 192.1L505.8 191.4L505.8 190.6L505.6 189.8L504.1 188.8L499 187.3L495.8 186L495.4 185L495.5 184.1L495.7 183.2L495.8 182.3L496.1 181.4L496.6 180.6L499 180.2L504.6 180.9L507.2 180.8L507.9 180.2L508.2 179.5L508.4 178.7L508.4 177.9L507.1 176.7L502.4 174L499.6 172L499.5 170.9L499.7 170.1L500.1 169.2L500.5 168.4L500.9 167.6L501.6 166.9L504 167.1L509.4 169L511.9 169.5L512.7 169L513.1 168.4L513.5 167.8L513.6 167L512.7 165.4L508.7 161.8L506.5 159.2L506.5 158.2L507 157.4L507.5 156.6L508.1 155.9L508.7 155.2L509.5 154.7L511.8 155.5L516.6 158.5L519 159.5L519.8 159.2L520.4 158.7L520.9 158.2L521.2 157.4L520.6 155.7L517.6 151.3L516 148.3L516.2 147.3L516.9 146.6L517.6 146L518.3 145.4L519 144.9L519.9 144.6L522 145.8L526 149.8L528.1 151.4L529 151.3L529.7 150.9L530.3 150.5L530.8 149.8L530.6 148L528.6 143.1L527.6 139.8L528.2 138.8L528.9 138.3L529.7 137.9L530.5 137.5L531.4 137.1L532.4 137L534.1 138.7L537.1 143.5L538.8 145.5L539.7 145.6L540.4 145.4L541.1 145.1L541.7 144.6L541.9 142.8L541.1 137.5L540.9 134L541.6 133.2L542.5 132.9L543.4 132.7L544.3 132.5L545.2 132.3L546.1 132.4L547.5 134.4L549.3 139.8L550.6 142.1L551.4 142.4L552.1 142.3L552.9 142.2L553.6 141.8L554.2 140.1L554.5 134.8L555.2 131.4L556 130.8L557 130.7L557.9 130.6L558.8 130.6Z" fill="#fff" stroke="#000" stroke-width="1.6" stroke-linecap="round" stroke-linejoin="round" />
<path d="M674 175.5L674.8 180.9L675.5 184L676.3 184.6L677.1 184.7L677.8 184.7L678.6 184.6L679.5 183.3L680.8 178.6L682.2 174.8L683.2 174.2L684.1 174.2L685 174.3L685.9 174.5L686.8 174.7L687.7 175.1L688.2 177.1L687.8 182.6L687.8 185.7L688.4 186.4L689.1 186.7L689.9 186.9L690.7 187L691.8 186L694.2 181.6L696.3 178.2L697.4 177.8L698.3 178.1L699.2 178.4L700 178.8L700.9 179.2L701.6 179.8L701.6 181.8L700 187.1L699.4 190.1L699.8 191L700.4 191.4L701.1 191.8L701.9 192L703.2 191.3L706.5 187.5L709.3 184.7L710.5 184.6L711.3 185L712.1 185.5L712.8 186.1L713.5 186.7L714.1 187.4L713.7 189.4L711 194.2L709.6 197L709.9 197.9L710.4 198.5L711 199L711.7 199.4L713.1 199L717.1 196.1L720.6 193.9L721.7 194.1L722.4 194.7L723.1 195.4L723.7 196L724.2 196.8L724.6 197.6L723.8 199.5L720.1 203.5L718.1 206L718.1 206.9L718.5 207.6L719 208.2L719.6 208.7L721.1 208.7L725.7 206.7L729.5 205.4L730.6 205.8L731.1 206.6L731.6 207.4L732 208.2L732.4 209L732.6 210L731.4 211.6L726.8 214.7L724.4 216.6L724.2 217.6L724.4 218.3L724.7 219L725.2 219.6L726.7 219.9L731.6 219L735.6 218.6L736.6 219.3L737 220.1L737.2 221L737.5 221.9L737.7 222.8L737.7 223.7L736.1 225L731 227L728.2 228.4L727.8 229.3L727.8 230.1L728 230.8L728.3 231.5L729.7 232.1L734.6 232.4L738.6 232.8L739.4 233.7L739.6 234.6L739.7 235.5L739.7 236.4L739.7 237.4L739.5 238.3L737.7 239.2L732.3 240L729.2 240.7L728.6 241.5L728.5 242.3L728.5 243L728.6 243.8L729.9 244.7L734.6 246L738.4 247.4L739 248.4L739 249.3L738.9 250.2L738.7 251.1L738.5 252L738.1 252.9L736.1 253.4L730.6 253L727.5 253L726.8 253.6L726.5 254.3L726.3 255.1L726.2 255.9L727.2 257L731.6 259.4L735 261.5L735.4 262.6L735.1 263.5L734.8 264.4L734.4 265.2L734 266.1L733.4 266.8L731.4 266.8L726.1 265.2L723.1 264.6L722.2 265L721.8 265.6L721.4 266.3L721.2 267.1L721.9 268.4L725.7 271.7L728.5 274.5L728.6 275.7L728.2 276.5L727.7 277.3L727.1 278L726.5 278.7L725.8 279.3L723.8 278.9L719 276.2L716.2 274.8L715.3 275.1L714.7 275.6L714.2 276.2L713.8 276.9L714.2 278.3L717.1 282.3L719.3 285.8L719.1 286.9L718.5 287.6L717.8 288.3L717.2 288.9L716.4 289.4L715.6 289.8L713.7 289L709.7 285.3L707.2 283.3L706.3 283.3L705.6 283.7L705 284.2L704.5 284.8L704.5 286.3L706.5 290.9L707.8 294.7L707.4 295.8L706.6 296.3L705.8 296.8L705 297.2L704.2 297.6L703.2 297.8L701.6 296.6L698.5 292L696.6 289.6L695.6 289.4L694.9 289.6L694.2 289.9L693.6 290.4L693.3 291.9L694.2 296.8L694.6 300.8L693.9 301.8L693.1 302.2L692.2 302.4L691.3 302.7L690.4 302.9L689.5 302.9L688.2 301.3L686.2 296.2L684.8 293.4L683.9 293L683.1 293L682.4 293.2L681.7 293.5L681.1 294.9L680.8 299.8L680.4 303.8L679.5 304.6L678.6 304.8L677.7 304.9L676.8 304.9L675.8 304.9L674.9 304.7L674 302.9L673.2 297.5L672.5 294.4L671.7 293.8L670.9 293.7L670.2 293.7L669.4 293.8L668.5 295.1L667.2 299.8L665.8 303.6L664.8 304.2L663.9 304.2L663 304.1L662.1 303.9L661.2 303.7L660.3 303.3L659.8 301.3L660.2 295.8L660.2 292.7L659.6 292L658.9 291.7L658.1 291.5L657.3 291.4L656.2 292.4L653.8 296.8L651.7 300.2L650.6 300.6L649.7 300.3L648.8 300L648 299.6L647.1 299.2L646.4 298.6L646.4 296.6L648 291.3L648.6 288.3L648.2 287.4L647.6 287L646.9 286.6L646.1 286.4L644.8 287.1L641.5 290.9L638.7 293.7L637.5 293.8L636.7 293.4L635.9 292.9L635.2 292.3L634.5 291.7L633.9 291L634.3 289L637 284.2L638.4 281.4L638.1 280.5L637.6 279.9L637 279.4L636.3 279L634.9 279.4L630.9 282.3L627.4 284.5L626.3 284.3L625.6 283.7L624.9 283L624.3 282.4L623.8 281.6L623.4 280.8L624.2 278.9L627.9 274.9L629.9 272.4L629.9 271.5L629.5 270.8L629 270.2L628.4 269.7L626.9 269.7L622.3 271.7L618.5 273L617.4 272.6L616.9 271.8L616.4 271L616 270.2L615.6 269.4L615.4 268.4L616.6 266.8L621.2 263.7L623.6 261.8L623.8 260.8L623.6 260.1L623.3 259.4L622.8 258.8L621.3 258.5L616.4 259.4L612.4 259.8L611.4 259.1L611 258.3L610.8 257.4L610.5 256.5L610.3 255.6L610.3 254.7L611.9 253.4L617 251.4L619.8 250L620.2 249.1L620.2 248.3L620 247.6L619.7 246.9L618.3 246.3L613.4 246L609.4 245.6L608.6 244.7L608.4 243.8L608.3 242.9L608.3 242L608.3 241L608.5 240.1L610.3 239.2L615.7 238.4L618.8 237.7L619.4 236.9L619.5 236.1L619.5 235.4L619.4 234.6L618.1 233.7L613.4 232.4L609.6 231L609 230L609 229.1L609.1 228.2L609.3 227.3L609.5 226.4L609.9 225.5L611.9 225L617.4 225.4L620.5 225.4L621.2 224.8L621.5 224.1L621.7 223.3L621.8 222.5L620.8 221.4L616.4 219L613 216.9L612.6 215.8L612.9 214.9L613.2 214L613.6 213.2L614 212.3L614.6 211.6L616.6 211.6L621.9 213.2L624.9 213.8L625.8 213.4L626.2 212.8L626.6 212.1L626.8 211.3L626.1 210L622.3 206.7L619.5 203.9L619.4 202.7L619.8 201.9L620.3 201.1L620.9 200.4L621.5 199.7L622.2 199.1L624.2 199.5L629 202.2L631.8 203.6L632.7 203.3L633.3 202.8L633.8 202.2L634.2 201.5L633.8 200.1L630.9 196.1L628.7 192.6L628.9 191.5L629.5 190.8L630.2 190.1L630.8 189.5L631.6 189L632.4 188.6L634.3 189.4L638.3 193.1L640.8 195.1L641.7 195.1L642.4 194.7L643 194.2L643.5 193.6L643.5 192.1L641.5 187.5L640.2 183.7L640.6 182.6L641.4 182.1L642.2 181.6L643 181.2L643.8 180.8L644.8 180.6L646.4 181.8L649.5 186.4L651.4 188.8L652.4 189L653.1 188.8L653.8 188.5L654.4 188L654.7 186.5L653.8 181.6L653.4 177.6L654.1 176.6L654.9 176.2L655.8 176L656.7 175.7L657.6 175.5L658.5 175.5L659.8 177.1L661.8 182.2L663.2 185L664.1 185.4L664.9 185.4L665.6 185.2L666.3 184.9L666.9 183.5L667.2 178.6L667.6 174.6L668.5 173.8L669.4 173.6L670.3 173.5L671.2 173.5L672.2 173.5L673.1 173.7Z" fill="none" stroke="#000" stroke-width="1.6" stroke-linecap="round" stroke-linejoin="round" />
</g>
<g id="hub1">
<circle cx="321" cy="247.5" r="38" fill="none" stroke="#000" stroke-width="0.8" />
<circle cx="316.2" cy="246" r="36.2" fill="#fff" stroke="#000" stroke-width="0.9" />
<path d="M298.1 277.4L295.8 275.9L293.5 274.2L291.5 272.4L289.5 270.5L287.7 268.3L286.1 266.1L284.7 263.8L283.4 261.3L282.3 258.8L281.4 256.1L280.8 253.4L280.3 250.7L280.1 248L280 245.2L280.2 242.5L280.5 239.7L281.1 237L281.9 234.4L282.9 231.8L284.1 229.3L285.5 226.9L287 224.6L288.7 222.4L290.6 220.4L292.6 218.5L294.8 216.8L297.1 215.3L299.5 213.9L302 212.7L304.6 211.7L307.2 210.9L309.9 210.3L312.7 210L315.4 209.8L318.2 209.9L320.9 210.1L323.6 210.6L326.3 211.2L329 212.1L331.5 213.2L334 214.5L336.3 215.9L338.5 217.5L340.7 219.3L342.6 221.3L344.4 223.3L346.1 225.6L347.6 227.9" fill="none" stroke="#000" stroke-width="1.8" stroke-linecap="round" stroke-linejoin="round" />
<circle cx="316" cy="245" r="27.4" fill="none" stroke="#000" stroke-width="0.9" />
<circle cx="311.2" cy="242" r="24.5" fill="#fff" stroke="#000" stroke-width="1.0" />
<path d="M290 254.2L289.3 253.1L288.8 251.9L288.3 250.6L287.8 249.4L287.5 248.1L287.2 246.8L286.9 245.5L286.8 244.1L286.7 242.8L286.7 241.5L286.8 240.1L286.9 238.8L287.1 237.5L287.4 236.2L287.8 234.9L288.2 233.6L288.7 232.4L289.2 231.2L289.9 230L290.5 228.8L291.3 227.7L292.1 226.7L293 225.6L293.9 224.7L294.8 223.8L295.9 222.9L296.9 222.1L298 221.3L299.2 220.7L300.4 220L301.6 219.5L302.8 219L304.1 218.6L305.4 218.2L306.7 217.9L308 217.7L309.3 217.6L310.7 217.5L312 217.5L313.3 217.6L314.7 217.7L316 218L317.3 218.3L318.6 218.6L319.8 219.1L321.1 219.6L322.3 220.1L323.4 220.8" fill="none" stroke="#000" stroke-width="2.0" stroke-linecap="round" stroke-linejoin="round" />
<circle cx="310.7" cy="242.5" r="21.2" fill="none" stroke="#000" stroke-width="0.8" />
<circle cx="310" cy="242.7" r="13.4" fill="none" stroke="#000" stroke-width="1.0" />
<path d="M316.7 231.1L317.4 231.6L318.2 232.1L318.8 232.6L319.5 233.2L320.1 233.9L320.6 234.5L321.1 235.3L321.6 236L322 236.8L322.4 237.6L322.7 238.4L322.9 239.2L323.1 240.1L323.3 241L323.4 241.8L323.4 242.7L323.4 243.6L323.3 244.4L323.1 245.3L322.9 246.2L322.7 247L322.4 247.8L322 248.6L321.6 249.4L321.1 250.1L320.6 250.9L320.1 251.5L319.5 252.2L318.8 252.8L318.2 253.3L317.4 253.8L316.7 254.3L315.9 254.7L315.1 255.1L314.3 255.4L313.5 255.6L312.6 255.8L311.7 256L310.9 256.1L310 256.1L309.1 256.1L308.3 256L307.4 255.8L306.5 255.6L305.7 255.4L304.9 255.1L304.1 254.7L303.3 254.3" fill="none" stroke="#000" stroke-width="1.8" stroke-linecap="round" stroke-linejoin="round" />
<circle cx="311.9" cy="242.7" r="6.7" fill="none" stroke="#000" stroke-width="1.6" />
<circle cx="311.9" cy="242.7" r="2.2" fill="none" stroke="#000" stroke-width="1.4" />
<path d="M340.8 232.9L348 230.6" stroke="#000" stroke-width="3.8" fill="none"/>
</g>
<g id="gear2">
<path d="M432.5 110L433.4 115.8L434.1 119.3L434.9 120L435.7 120.1L436.6 120.1L437.4 120L438.3 118.7L439.6 113.6L440.9 109.1L441.9 108.2L442.9 108.2L443.8 108.2L444.8 108.3L445.7 108.5L446.6 108.9L447.2 110.8L447 116.8L447.2 120.5L447.9 121.4L448.6 121.7L449.4 121.8L450.3 121.8L451.4 120.7L453.5 115.9L455.6 111.6L456.8 111L457.7 111.2L458.7 111.4L459.6 111.7L460.5 112.1L461.3 112.6L461.5 114.6L460.3 120.5L459.8 124.2L460.3 125.2L461 125.6L461.8 125.9L462.6 126L463.9 125.1L466.9 120.7L469.7 116.9L470.9 116.5L471.8 116.8L472.7 117.2L473.5 117.7L474.3 118.2L475 118.8L474.9 120.9L472.7 126.5L471.6 130L471.9 131L472.5 131.6L473.2 132L474 132.3L475.4 131.6L479.1 127.8L482.6 124.5L483.9 124.4L484.7 124.8L485.5 125.4L486.2 126L486.9 126.6L487.5 127.4L487.1 129.4L483.9 134.5L482.2 137.8L482.3 138.8L482.8 139.5L483.4 140L484.2 140.4L485.7 140L490 136.9L493.9 134.3L495.2 134.3L496 134.9L496.6 135.6L497.3 136.3L497.9 137.1L498.3 137.9L497.5 139.8L493.5 144.3L491.2 147.3L491.2 148.3L491.6 149L492.1 149.7L492.8 150.2L494.3 150.1L499.1 147.8L503.4 145.9L504.7 146.1L505.3 146.9L505.9 147.7L506.4 148.5L506.8 149.3L507.1 150.2L506 152L501.3 155.7L498.5 158.2L498.3 159.2L498.6 160L499 160.7L499.5 161.3L501.1 161.5L506.2 160L510.8 158.9L512 159.4L512.5 160.2L512.9 161.1L513.2 162L513.5 162.9L513.6 163.9L512.3 165.4L506.9 168.2L503.8 170.2L503.4 171.2L503.6 172L503.8 172.8L504.3 173.5L505.7 173.9L511 173.4L515.8 173.1L516.9 173.8L517.2 174.6L517.4 175.6L517.6 176.5L517.8 177.4L517.7 178.4L516.1 179.7L510.4 181.5L506.9 182.9L506.4 183.9L506.4 184.7L506.5 185.5L506.8 186.3L508.2 186.9L513.5 187.3L518.2 187.8L519.2 188.7L519.4 189.7L519.4 190.6L519.4 191.6L519.4 192.5L519.2 193.5L517.4 194.4L511.4 195.3L507.8 196L507.1 196.8L506.9 197.6L506.9 198.5L507.1 199.3L508.3 200.2L513.5 201.5L518 202.8L518.8 203.9L518.9 204.8L518.8 205.8L518.6 206.7L518.4 207.6L518 208.5L516.1 209.1L510.1 208.9L506.4 209.1L505.5 209.8L505.2 210.5L505.1 211.3L505.1 212.2L506.2 213.3L511 215.4L515.3 217.5L515.9 218.7L515.7 219.6L515.5 220.6L515.2 221.5L514.8 222.4L514.3 223.2L512.3 223.4L506.4 222.2L502.7 221.7L501.7 222.2L501.3 222.9L501 223.7L500.9 224.5L501.8 225.8L506.2 228.8L510 231.6L510.4 232.8L510.1 233.7L509.7 234.6L509.2 235.4L508.7 236.2L508.1 236.9L506 236.8L500.4 234.6L496.9 233.5L495.9 233.8L495.3 234.4L494.9 235.1L494.6 235.9L495.3 237.3L499.1 241L502.4 244.5L502.5 245.8L502.1 246.6L501.5 247.4L500.9 248.1L500.3 248.8L499.5 249.4L497.5 249L492.4 245.8L489.1 244.1L488.1 244.2L487.4 244.7L486.9 245.3L486.5 246.1L486.9 247.6L490 251.9L492.6 255.8L492.6 257.1L492 257.9L491.3 258.5L490.6 259.2L489.8 259.8L489 260.2L487.1 259.4L482.6 255.4L479.6 253.1L478.6 253.1L477.9 253.5L477.2 254L476.7 254.7L476.8 256.2L479.1 261L481 265.3L480.8 266.6L480 267.2L479.2 267.8L478.4 268.3L477.6 268.7L476.7 269L474.9 267.9L471.2 263.2L468.7 260.4L467.7 260.2L466.9 260.5L466.2 260.9L465.6 261.4L465.4 263L466.9 268.1L468 272.7L467.5 273.9L466.7 274.4L465.8 274.8L464.9 275.1L464 275.4L463 275.5L461.5 274.2L458.7 268.8L456.7 265.7L455.7 265.3L454.9 265.5L454.1 265.7L453.4 266.2L453 267.6L453.5 272.9L453.8 277.7L453.1 278.8L452.3 279.1L451.3 279.3L450.4 279.5L449.5 279.7L448.5 279.6L447.2 278L445.4 272.3L444 268.8L443 268.3L442.2 268.3L441.4 268.4L440.6 268.7L440 270.1L439.6 275.4L439.1 280.1L438.2 281.1L437.2 281.3L436.3 281.3L435.3 281.3L434.4 281.3L433.4 281.1L432.5 279.3L431.6 273.3L430.9 269.7L430.1 269L429.3 268.8L428.4 268.8L427.6 269L426.7 270.2L425.4 275.4L424.1 279.9L423 280.7L422.1 280.8L421.1 280.7L420.2 280.5L419.3 280.3L418.4 279.9L417.8 278L418 272L417.8 268.3L417.1 267.4L416.4 267.1L415.6 267L414.7 267L413.6 268.1L411.5 272.9L409.4 277.2L408.2 277.8L407.3 277.6L406.3 277.4L405.4 277.1L404.5 276.7L403.7 276.2L403.5 274.2L404.7 268.3L405.2 264.6L404.7 263.6L404 263.2L403.2 262.9L402.4 262.8L401.1 263.7L398.1 268.1L395.3 271.9L394.1 272.3L393.2 272L392.3 271.6L391.5 271.1L390.7 270.6L390 270L390.1 267.9L392.3 262.3L393.4 258.8L393.1 257.8L392.5 257.2L391.8 256.8L391 256.5L389.6 257.2L385.9 261L382.4 264.3L381.1 264.4L380.3 264L379.5 263.4L378.8 262.8L378.1 262.2L377.5 261.4L377.9 259.4L381.1 254.3L382.8 251L382.7 250L382.2 249.3L381.6 248.8L380.8 248.4L379.3 248.8L375 251.9L371.1 254.5L369.8 254.5L369 253.9L368.4 253.2L367.7 252.5L367.1 251.7L366.7 250.9L367.5 249L371.5 244.5L373.8 241.5L373.8 240.5L373.4 239.8L372.9 239.1L372.2 238.6L370.7 238.7L365.9 241L361.6 242.9L360.3 242.7L359.6 242L359 241.2L358.5 240.4L358 239.6L357.6 238.7L358.7 237L363.6 233.2L366.4 230.6L366.7 229.6L366.4 228.8L366 228.1L365.4 227.5L363.8 227.3L358.3 229L353.3 230.3L352 229.8L351.4 229L351 228.2L350.7 227.3L350.3 226.4L350.2 225.4L351.7 223.8L357.6 220.8L361 218.7L361.5 217.6L361.3 216.8L361.1 216.1L360.6 215.4L358.9 215L352.7 215.8L347.2 216.3L345.8 215.6L345.3 214.7L345 213.8L344.7 212.9L344.5 211.9L344.6 210.9L346.6 209.6L353.5 207.4L357.6 205.9L358.3 205L358.3 204.2L358.2 203.4L357.8 202.6L356.2 201.9L349.8 201.6L344.2 201.2L343.1 200.3L342.9 199.3L342.8 198.3L342.8 197.3L342.8 196.4L343.1 195.4L345.2 194.4L352.4 193.5L356.7 192.7L357.6 191.9L357.8 191.1L357.8 190.3L357.7 189.5L356.2 188.6L350.3 187.2L345.1 185.8L344.3 184.7L344.4 183.8L344.6 182.8L344.8 181.9L345 180.9L345.5 180L347.7 179.4L354.4 179.8L358.6 179.7L359.5 179.1L359.8 178.3L360 177.5L360 176.7L359 175.6L354 173.4L350 171.3L349.6 170.2L350 169.4L350.4 168.5L350.9 167.7L351.4 166.9L352 166.1L353.9 165.8L359.4 166.9L362.9 167.3L363.8 166.8L364.2 166.1L364.6 165.4L364.8 164.6L364.1 163.4L360.4 160.8L357.3 158.3L357.2 157.3L357.7 156.5L358.2 155.7L358.8 155L359.3 154.3L360 153.6L361.8 153.6L366.4 155.3L369.3 156.1L370.3 155.7L370.8 155.1L371.3 154.4L371.6 153.7L371.3 152.5L368.4 149.5L366 146.7L366 145.6L366.5 144.9L367.1 144.2L367.8 143.6L368.4 142.9L369.1 142.4L370.8 142.6L374.9 145L377.5 146.2L378.5 146L379.1 145.5L379.7 144.9L380.1 144.2L379.9 143L377.7 139.6L375.8 136.4L376 135.3L376.6 134.7L377.3 134.1L377.9 133.5L378.6 133L379.4 132.6L381 133.1L384.6 136.1L387 137.7L387.9 137.6L388.6 137.2L389.2 136.7L389.7 136.1L389.8 134.8L388 130.9L386.7 127.4L387 126.3L387.7 125.7L388.4 125.1L389.1 124.6L389.9 124.2L390.7 123.9L392.2 124.7L395.3 128.4L397.4 130.4L398.4 130.5L399.1 130.2L399.8 129.8L400.4 129.2L400.6 127.9L399.4 123.5L398.6 119.6L399.1 118.4L399.8 117.8L400.6 117.4L401.4 116.9L402.2 116.6L403.1 116.4L404.5 117.5L407.1 122.1L408.8 124.7L409.8 125L410.5 124.8L411.3 124.5L412 124L412.4 122.6L412 117.8L411.7 113.4L412.4 112.3L413.2 111.8L414.1 111.5L415 111.2L415.9 110.9L416.8 110.9L418 112.4L419.8 117.7L421.2 120.8L422.1 121.3L422.9 121.2L423.7 121.1L424.4 120.7L425.1 119.4L425.5 114.3L426 109.7L426.9 108.7L427.8 108.4L428.7 108.3L429.7 108.2L430.6 108.1L431.6 108.3Z" fill="#fff" stroke="#000" stroke-width="1.7" stroke-linecap="round" stroke-linejoin="round" />
<circle cx="433" cy="194.5" r="65" fill="none" stroke="#000" stroke-width="0.9" />
<circle cx="433.3" cy="194.3" r="59.1" fill="none" stroke="#000" stroke-width="0.9" />
<circle cx="432.3" cy="194.1" r="52.1" fill="none" stroke="#000" stroke-width="0.9" />
<circle cx="431.4" cy="193.1" r="45.2" fill="none" stroke="#000" stroke-width="0.9" />
<circle cx="430.4" cy="192.7" r="38.5" fill="none" stroke="#000" stroke-width="1.0" />
<path d="M400.8 217.4L399 215.1L397.4 212.7L396 210.2L394.8 207.5L393.8 204.8L392.9 202L392.3 199.1L392 196.2L391.8 193.3L391.9 190.4L392.1 187.5L392.6 184.6L393.4 181.8L394.3 179L395.4 176.4L396.7 173.8L398.3 171.3L400 168.9L401.9 166.7L403.9 164.6L406.1 162.7L408.4 160.9L410.9 159.4L413.5 158L416.1 156.8L418.9 155.9L421.7 155.1L424.5 154.5L427.4 154.2L430.4 154.1L433.3 154.2L436.2 154.5L439 155.1L441.8 155.9L444.6 156.8L447.2 158L449.8 159.4L452.3 160.9L454.6 162.7L456.8 164.6L458.8 166.7L460.7 168.9L462.4 171.3L464 173.8L465.3 176.4L466.4 179L467.3 181.8L468.1 184.6L468.6 187.5L468.8 190.4L468.9 193.3L468.7 196.2L468.4 199.1L467.8 202L466.9 204.8L465.9 207.5L464.7 210.2L463.3 212.7L461.7 215.1L459.9 217.4" fill="none" stroke="#000" stroke-width="1.9" stroke-linecap="round" stroke-linejoin="round" />
<path d="M462.5 171.8L463.6 173.9L464.5 176L465.4 178.1L466.1 180.4L466.6 182.6L467 184.9L467.3 187.2L467.4 189.6L467.4 191.9L467.2 194.2L466.9 196.5L466.4 198.8L465.8 201L465 203.2L464.1 205.4L463.1 207.5L461.9 209.5L460.7 211.4L459.2 213.3L457.7 215.1L456.1 216.7L454.4 218.3L452.6 219.7L450.6 221.1L448.7 222.3L446.6 223.3L444.5 224.3L442.3 225.1L440 225.8L437.8 226.3L435.5 226.7L433.2 226.9L430.8 227L428.5 226.9L426.2 226.7L423.9 226.4L421.6 225.9L419.4 225.2L417.2 224.5L415 223.6" fill="none" stroke="#000" stroke-width="0.9" stroke-linecap="round" stroke-linejoin="round" />
<circle cx="429.5" cy="190.6" r="24.7" fill="none" stroke="#000" stroke-width="0.8" />
<path d="M439.3 210.5L437.3 211.4L435.2 212.1L433 212.5L430.8 212.8L428.6 212.8L426.5 212.6L424.3 212.2L422.2 211.6L420.2 210.7L418.2 209.7L416.4 208.5L414.7 207.1L413.1 205.6L411.7 203.9L410.5 202.1L409.4 200.1L408.6 198.1L408 196L407.5 193.8L407.3 191.7L407.3 189.5L407.6 187.3L408 185.1L408.6 183L409.5 181L410.5 179.1L411.8 177.2L413.2 175.6L414.7 174L416.5 172.6L418.3 171.4L420.2 170.4L422.3 169.6L424.4 169L426.5 168.6L428.7 168.4L430.9 168.4L433.1 168.7L435.3 169.2L437.4 169.8L439.4 170.7L441.3 171.8L443.1 173L444.8 174.5L446.3 176.1L447.6 177.8L448.8 179.6L449.8 181.6L450.6 183.7L451.2 185.8L451.5 187.9L451.7 190.1L451.6 192.3L451.4 194.5L450.9 196.6L450.2 198.7L449.3 200.7L448.2 202.6L446.9 204.4L445.4 206.1L440.1 198.8L441.2 197.2L442 195.4L442.6 193.6L442.9 191.7L442.9 189.8L442.6 187.9L442.1 186.1L441.3 184.3L440.3 182.7L439.1 181.3L437.7 180L436.1 178.9L434.4 178.1L432.5 177.5L430.6 177.2L428.7 177.2L426.8 177.5L425 178L423.2 178.7L421.6 179.8L420.2 181L418.9 182.4L417.8 184L417 185.7L416.4 187.6L416.1 189.4L416.1 191.4L416.4 193.3L416.9 195.1L417.6 196.8L418.7 198.5L419.9 199.9L421.3 201.2L422.9 202.3L424.6 203.1L426.4 203.6L428.3 203.9L430.2 204L432.1 203.7L434 203.2Z" fill="none" stroke="#000" stroke-width="1.6" stroke-linecap="round" stroke-linejoin="round" />
<path d="M414.3 193.3L414.2 192.4L414.1 191.5L414.1 190.6L414.1 189.7L414.2 188.8L414.3 187.9L414.5 187L414.7 186.2L415 185.3L415.4 184.5L415.7 183.7L416.2 182.9L416.6 182.1L417.1 181.4L417.7 180.7L418.3 180L418.9 179.4L419.6 178.8L420.3 178.2L421 177.7L421.8 177.3L422.6 176.8L423.4 176.5L424.2 176.1L425.1 175.8L425.9 175.6L426.8 175.4L427.7 175.3L428.6 175.2L429.5 175.2L430.4 175.2L431.3 175.3L432.2 175.4L433.1 175.6L433.9 175.8L434.8 176.1L435.6 176.5L436.4 176.8L437.2 177.3L438 177.7L438.7 178.2L439.4 178.8L440.1 179.4L440.7 180L441.3 180.7L441.9 181.4L442.4 182.1L442.8 182.9" fill="none" stroke="#000" stroke-width="0.8" stroke-linecap="round" stroke-linejoin="round" />
<circle cx="429.5" cy="190.6" r="8.6" fill="none" stroke="#000" stroke-width="0.9" />
<circle cx="429.5" cy="190.6" r="4.3" fill="none" stroke="#000" stroke-width="1.6" />
<path d="M416.4 131.3L415.8 124L420.3 129.8" fill="none" stroke="#000" stroke-width="1.5" stroke-linecap="round" stroke-linejoin="round" />
<path d="M483 150.7L488.2 148.6L485.3 155.2" fill="none" stroke="#000" stroke-width="1.5" stroke-linecap="round" stroke-linejoin="round" />
<path d="M365.7 197.6L360.5 200.3L365.7 202.3" fill="none" stroke="#000" stroke-width="1.4" stroke-linecap="round" stroke-linejoin="round" />
</g>
<g id="hub3">
<circle cx="562.2" cy="192.7" r="37.9" fill="#fff" stroke="#000" stroke-width="0.9" />
<path d="M528.7 174.9L529.9 172.9L531.1 171.1L532.4 169.2L533.9 167.5L535.4 165.9L537.1 164.3L538.8 162.9L540.6 161.5L542.5 160.3L544.5 159.2L546.5 158.2L548.6 157.3L550.8 156.6L552.9 156L555.1 155.5L557.4 155.1L559.6 154.9L561.9 154.8L564.1 154.8L566.4 155L568.6 155.3L570.8 155.8L573 156.4L575.2 157.1L577.3 157.9L579.3 158.9L581.3 160L583.2 161.2L585.1 162.5L586.8 163.9L588.5 165.4L590.1 167L591.5 168.7L592.9 170.5L594.2 172.4L595.3 174.3L596.4 176.3L597.3 178.4L598.1 180.5L598.8 182.7L599.3 184.9L599.7 187.1L600 189.3L600.1 191.6L600.1 193.9L599.9 196.1L599.7 198.4L599.3 200.6" fill="none" stroke="#000" stroke-width="1.8" stroke-linecap="round" stroke-linejoin="round" />
<path d="M584.6 221.9L582.8 223.1L581 224.1L579.2 225L577.3 225.9L575.3 226.6L573.3 227.2L571.3 227.7L569.2 228L567.1 228.3L565 228.4L563 228.4L560.9 228.3L558.8 228L556.7 227.7L554.7 227.2L552.7 226.6L550.7 225.9L548.8 225L547 224.1L545.2 223.1L543.4 221.9L541.7 220.7L540.1 219.3L538.6 217.9L537.2 216.4L535.8 214.8L534.6 213.1L533.4 211.3L532.4 209.5L531.5 207.7L530.6 205.8L529.9 203.8L529.3 201.8L528.8 199.8L528.5 197.7L528.2 195.6L528.1 193.5L528.1 191.5L528.2 189.4L528.5 187.3L528.8 185.2L529.3 183.2L529.9 181.2L530.6 179.2L531.5 177.3L532.4 175.5L533.4 173.7L534.6 171.9" fill="none" stroke="#000" stroke-width="0.8" stroke-linecap="round" stroke-linejoin="round" />
<circle cx="565.3" cy="190.7" r="27.2" fill="none" stroke="#000" stroke-width="0.9" />
<circle cx="567.2" cy="187.4" r="23.8" fill="#fff" stroke="#000" stroke-width="1.0" />
<path d="M547 174.8L547.8 173.6L548.6 172.5L549.6 171.4L550.5 170.4L551.6 169.4L552.7 168.5L553.8 167.7L555 167L556.2 166.3L557.5 165.7L558.8 165.1L560.1 164.7L561.5 164.3L562.9 164L564.3 163.8L565.7 163.6L567.1 163.6L568.5 163.6L569.9 163.8L571.3 164L572.7 164.2L574 164.6L575.4 165.1L576.7 165.6L578 166.2L579.2 166.8L580.4 167.6L581.6 168.4L582.7 169.3L583.7 170.2L584.7 171.3L585.6 172.3L586.5 173.4L587.3 174.6L588 175.8L588.6 177.1L589.2 178.3L589.7 179.7L590.1 181L590.5 182.4L590.7 183.8L590.9 185.2L591 186.6L591 188L590.9 189.4L590.8 190.8L590.5 192.2L590.2 193.6" fill="none" stroke="#000" stroke-width="1.9" stroke-linecap="round" stroke-linejoin="round" />
<circle cx="567.4" cy="186.2" r="21.2" fill="none" stroke="#000" stroke-width="0.8" />
<circle cx="568.4" cy="184.6" r="13.4" fill="none" stroke="#000" stroke-width="1.0" />
<path d="M581 189.2L580.5 190.3L580 191.4L579.3 192.4L578.5 193.4L577.7 194.2L576.8 195.1L575.8 195.8L574.8 196.4L573.7 196.9L572.5 197.4L571.3 197.7L570.1 197.9L568.9 198L567.7 198L566.5 197.9L565.3 197.6L564.1 197.3L563 196.9L561.9 196.3L560.9 195.7L559.9 195L559 194.1L558.2 193.3L557.4 192.3L556.8 191.3L556.2 190.2L555.8 189L555.4 187.9L555.2 186.7L555 185.5L555 184.3L555.1 183L555.3 181.8L555.6 180.7L556 179.5L556.5 178.4L557.1 177.4L557.8 176.4L558.6 175.4L559.5 174.6L560.4 173.8L561.4 173.1L562.5 172.6L563.6 172.1L564.8 171.7L566 171.4L567.2 171.3L568.4 171.2" fill="none" stroke="#000" stroke-width="1.9" stroke-linecap="round" stroke-linejoin="round" />
<ellipse cx="568" cy="187.3" rx="6.3" ry="6.7" fill="none" stroke="#000" stroke-width="1.5" />
<ellipse cx="568" cy="187.3" rx="2" ry="2.7" fill="none" stroke="#000" stroke-width="1.3" />
<path d="M528.6 195.6L536.7 195.6" stroke="#000" stroke-width="3.0" fill="none"/>
<circle cx="593.4" cy="204.1" r="2.3" fill="#fff" stroke="#000" stroke-width="1.3" />
</g>
<g id="hub4">
<circle cx="678" cy="239.6" r="38.6" fill="#fff" stroke="#000" stroke-width="0.9" />
<path d="M661.1 204.9L662.7 204.2L664.4 203.5L666.1 202.9L667.8 202.4L669.5 201.9L671.3 201.6L673.1 201.3L674.9 201.1L676.7 201L678.4 201L680.2 201.1L682 201.2L683.8 201.4L685.6 201.8L687.3 202.1L689.1 202.6L690.8 203.2L692.5 203.8L694.1 204.5L695.7 205.3L697.3 206.2L698.8 207.1L700.3 208.1L701.8 209.2L703.2 210.3L704.5 211.5L705.8 212.8L707 214.1L708.1 215.5L709.2 216.9L710.2 218.4L711.2 219.9L712.1 221.5L712.9 223.1L713.6 224.7L714.3 226.4L714.8 228.1L715.3 229.8L715.8 231.6L716.1 233.3L716.3 235.1L716.5 236.9L716.6 238.7L716.6 240.5L716.5 242.3L716.3 244.1L716.1 245.9L715.8 247.6" fill="none" stroke="#000" stroke-width="1.9" stroke-linecap="round" stroke-linejoin="round" />
<path d="M704.2 266L702.1 267.6L699.9 269.1L697.7 270.4L695.3 271.5L692.8 272.5L690.3 273.2L687.7 273.8L685.1 274.2L682.5 274.4L679.9 274.4L677.3 274.2L674.7 273.8L672.1 273.2L669.6 272.5L667.1 271.5L664.8 270.4L662.5 269.1L660.3 267.7L658.2 266L656.3 264.3L654.4 262.4L652.8 260.4L651.2 258.2L649.9 256L648.7 253.6L647.7 251.2L646.9 248.7L646.2 246.1L645.7 243.6L645.5 240.9L645.4 238.3L645.5 235.7L645.8 233.1L646.3 230.5L647 228L647.9 225.5L648.9 223.1L650.2 220.7L651.6 218.5L653.1 216.4L654.8 214.4L656.7 212.5L658.7 210.8L660.8 209.2L663 207.8L665.3 206.5L667.7 205.5L670.1 204.6" fill="none" stroke="#000" stroke-width="0.8" stroke-linecap="round" stroke-linejoin="round" />
<circle cx="683.5" cy="238.6" r="28" fill="none" stroke="#000" stroke-width="0.9" />
<path d="M674.8 212L676.5 211.5L678.2 211.1L679.9 210.8L681.6 210.7L683.4 210.6L685.1 210.6L686.8 210.8L688.5 211.1L690.2 211.4L691.9 211.9L693.5 212.5L695.1 213.1L696.7 213.9L698.2 214.7L699.6 215.7L701 216.7L702.3 217.9L703.6 219.1L704.7 220.3L705.8 221.7L706.8 223.1L707.7 224.6L708.5 226.1L709.3 227.7L709.9 229.3L710.4 230.9L710.8 232.6L711.2 234.3L711.4 236L711.5 237.7L711.5 239.5L711.4 241.2L711.2 242.9L710.8 244.6L710.4 246.3L709.9 247.9L709.3 249.6L708.5 251.1L707.7 252.7L706.8 254.1L705.8 255.5L704.7 256.9L703.5 258.2L702.3 259.4L701 260.5L699.6 261.5L698.1 262.5L696.6 263.3" fill="none" stroke="#000" stroke-width="1.8" stroke-linecap="round" stroke-linejoin="round" />
<circle cx="687.5" cy="238" r="23.9" fill="#fff" stroke="#000" stroke-width="0.8" />
<circle cx="688.4" cy="235.6" r="21.9" fill="none" stroke="#000" stroke-width="0.8" />
<circle cx="689.4" cy="235.9" r="13.3" fill="none" stroke="#000" stroke-width="1.0" />
<path d="M700.9 242.6L700.3 243.5L699.7 244.3L699 245.1L698.2 245.9L697.4 246.6L696.5 247.2L695.6 247.7L694.6 248.2L693.6 248.5L692.6 248.8L691.6 249.1L690.5 249.2L689.4 249.2L688.4 249.2L687.3 249.1L686.3 248.9L685.2 248.6L684.2 248.2L683.3 247.8L682.3 247.3L681.5 246.7L680.6 246L679.8 245.3L679.1 244.5L678.5 243.6L677.9 242.7L677.4 241.8L676.9 240.8L676.6 239.8L676.3 238.8L676.1 237.7L676 236.7L676 235.6L676.1 234.5L676.2 233.5L676.5 232.4L676.8 231.4L677.2 230.4L677.6 229.5L678.2 228.6L678.8 227.7L679.5 226.9L680.3 226.1L681.1 225.4L681.9 224.8L682.8 224.2L683.8 223.8L684.8 223.4" fill="none" stroke="#000" stroke-width="1.9" stroke-linecap="round" stroke-linejoin="round" />
<circle cx="684.6" cy="238.3" r="6.7" fill="none" stroke="#000" stroke-width="1.5" />
<circle cx="684.6" cy="238.4" r="2.8" fill="none" stroke="#000" stroke-width="1.3" />
<ellipse cx="651.4" cy="226.9" rx="2.6" ry="2.0" transform="rotate(15 651.4 226.9)" fill="none" stroke="#000" stroke-width="1.2"/>
<path d="M719.9 243.3L723.2 249.9M718.4 248.5L725.1 244.2" fill="none" stroke="#000" stroke-width="1.1" stroke-linecap="round" stroke-linejoin="round" />
</g>
<g id="worm">
<path d="M398.5 324L395.8 379.9M452.4 324L458.6 379.4" fill="none" stroke="#000" stroke-width="1.3" stroke-linecap="round" stroke-linejoin="round" />
<clipPath id="wc"><rect x="382.7" y="291.8" width="71.10000000000002" height="31.80000000000001"/></clipPath>
<path d="M385.2 291.8L453.8 291.3L453.8 323.6L384.7 323.6L382.7 321.1L382.7 294.8Z" fill="#fff" stroke="#000" stroke-width="1.1" stroke-linecap="round" stroke-linejoin="round" />
<g clip-path="url(#wc)">
<path d="M368.9 323.6L377.5 291.8" fill="none" stroke="#000" stroke-width="1.0" stroke-linecap="round" stroke-linejoin="round" />
<path d="M370.7 323.6L379.3 291.8" fill="none" stroke="#000" stroke-width="1.0" stroke-linecap="round" stroke-linejoin="round" />
<path d="M374.9 320L381.8 295.6" stroke="#000" stroke-width="5.6" stroke-linecap="round" fill="none"/>
<path d="M374.9 320L381.8 295.6" stroke="#fff" stroke-width="3.3" stroke-linecap="round" fill="none"/>
<path d="M380.6 323.6L389.2 291.8" fill="none" stroke="#000" stroke-width="1.0" stroke-linecap="round" stroke-linejoin="round" />
<path d="M382.4 323.6L391 291.8" fill="none" stroke="#000" stroke-width="1.0" stroke-linecap="round" stroke-linejoin="round" />
<path d="M386.6 320L393.5 295.6" stroke="#000" stroke-width="5.6" stroke-linecap="round" fill="none"/>
<path d="M386.6 320L393.5 295.6" stroke="#fff" stroke-width="3.3" stroke-linecap="round" fill="none"/>
<path d="M392.3 323.6L400.9 291.8" fill="none" stroke="#000" stroke-width="1.0" stroke-linecap="round" stroke-linejoin="round" />
<path d="M394.1 323.6L402.7 291.8" fill="none" stroke="#000" stroke-width="1.0" stroke-linecap="round" stroke-linejoin="round" />
<path d="M398.3 320L405.2 295.6" stroke="#000" stroke-width="5.6" stroke-linecap="round" fill="none"/>
<path d="M398.3 320L405.2 295.6" stroke="#fff" stroke-width="3.3" stroke-linecap="round" fill="none"/>
<path d="M404 323.6L412.6 291.8" fill="none" stroke="#000" stroke-width="1.0" stroke-linecap="round" stroke-linejoin="round" />
<path d="M405.8 323.6L414.4 291.8" fill="none" stroke="#000" stroke-width="1.0" stroke-linecap="round" stroke-linejoin="round" />
<path d="M410 320L416.9 295.6" stroke="#000" stroke-width="5.6" stroke-linecap="round" fill="none"/>
<path d="M410 320L416.9 295.6" stroke="#fff" stroke-width="3.3" stroke-linecap="round" fill="none"/>
<path d="M415.7 323.6L424.3 291.8" fill="none" stroke="#000" stroke-width="1.0" stroke-linecap="round" stroke-linejoin="round" />
<path d="M417.5 323.6L426.1 291.8" fill="none" stroke="#000" stroke-width="1.0" stroke-linecap="round" stroke-linejoin="round" />
<path d="M421.7 320L428.6 295.6" stroke="#000" stroke-width="5.6" stroke-linecap="round" fill="none"/>
<path d="M421.7 320L428.6 295.6" stroke="#fff" stroke-width="3.3" stroke-linecap="round" fill="none"/>
<path d="M427.4 323.6L436 291.8" fill="none" stroke="#000" stroke-width="1.0" stroke-linecap="round" stroke-linejoin="round" />
<path d="M429.2 323.6L437.8 291.8" fill="none" stroke="#000" stroke-width="1.0" stroke-linecap="round" stroke-linejoin="round" />
<path d="M433.4 320L440.3 295.6" stroke="#000" stroke-width="5.6" stroke-linecap="round" fill="none"/>
<path d="M433.4 320L440.3 295.6" stroke="#fff" stroke-width="3.3" stroke-linecap="round" fill="none"/>
<path d="M439.1 323.6L447.7 291.8" fill="none" stroke="#000" stroke-width="1.0" stroke-linecap="round" stroke-linejoin="round" />
<path d="M440.9 323.6L449.5 291.8" fill="none" stroke="#000" stroke-width="1.0" stroke-linecap="round" stroke-linejoin="round" />
<path d="M445.1 320L452 295.6" stroke="#000" stroke-width="5.6" stroke-linecap="round" fill="none"/>
<path d="M445.1 320L452 295.6" stroke="#fff" stroke-width="3.3" stroke-linecap="round" fill="none"/>
<path d="M450.8 323.6L459.4 291.8" fill="none" stroke="#000" stroke-width="1.0" stroke-linecap="round" stroke-linejoin="round" />
<path d="M452.6 323.6L461.2 291.8" fill="none" stroke="#000" stroke-width="1.0" stroke-linecap="round" stroke-linejoin="round" />
<path d="M456.8 320L463.7 295.6" stroke="#000" stroke-width="5.6" stroke-linecap="round" fill="none"/>
<path d="M456.8 320L463.7 295.6" stroke="#fff" stroke-width="3.3" stroke-linecap="round" fill="none"/>
</g>
<path d="M384.2 291.8L453.8 291.3M384.2 323.6L456.8 323.6" fill="none" stroke="#000" stroke-width="2.1" stroke-linecap="round" stroke-linejoin="round" />
<path d="M453.8 298C457 297 460.5 297.6 463.2 299.6C464.6 301.6 463.8 303.8 460.8 304.5C457.5 305 455.5 306.5 455.3 309C455.2 312 457.5 313.6 460.5 313.6C463.8 313.4 465.8 315.4 465.4 318C464.6 320.6 462.4 322.6 459.6 323.6L453.8 323.6" fill="none" stroke="#000" stroke-width="1.6" stroke-linecap="round" stroke-linejoin="round" />
<circle cx="460.3" cy="300.6" r="2.3" fill="none" stroke="#000" stroke-width="1.3" />
</g>
<g id="pinion">
<path d="M467.1 286.2L467.4 285.5L467.4 284.5L466.7 283.3L465 281.4L463 279.3L462.1 277.7L462.2 276.5L462.5 275.5L463.1 274.6L463.8 273.8L464.9 273.3L466.7 273.3L469.4 274.2L471.8 275L473.3 275.1L474.2 274.8L474.8 274.2L475.1 273.3L474.9 271.9L474 269.5L472.9 266.9L472.7 265L473.1 263.9L473.8 263.1L474.7 262.5L475.6 262L476.8 261.9L478.4 262.6L480.7 264.4L482.7 266L484 266.7L484.9 266.7L485.7 266.3L486.3 265.6L486.7 264.2L486.7 261.7L486.6 258.8L487.1 257L487.9 256.1L488.8 255.7L489.8 255.4L490.9 255.3L492 255.6L493.3 256.8L494.7 259.3L496 261.6L497 262.6L497.9 263L498.8 262.9L499.6 262.5L500.4 261.3L501.3 259L502.3 256.2L503.4 254.7L504.4 254.2L505.5 254.1L506.6 254.2L507.6 254.5L508.5 255.2L509.3 256.8L509.7 259.6L510.1 262.2L510.6 263.6L511.3 264.2L512.2 264.5L513.1 264.4L514.3 263.6L515.9 261.7L517.9 259.5L519.4 258.5L520.6 258.4L521.6 258.7L522.6 259.2L523.4 259.8L524 260.8L524.2 262.6L523.5 265.4L522.9 267.9L523 269.4L523.4 270.2L524.1 270.7L525 271L526.4 270.7L528.6 269.5L531.2 268.2L533 267.8L534.1 268.1L535 268.8L535.7 269.6L536.2 270.5L536.5 271.6L535.9 273.3L534.4 275.7L532.9 277.9L532.4 279.2L532.5 280.2L532.9 280.9L533.7 281.5L535.1 281.7L537.6 281.4L540.5 281.1L542.3 281.4L543.2 282.1L543.8 283L544.2 284L544.4 285.1L544.2 286.2L543.1 287.6L540.7 289.3L538.6 290.7L537.6 291.8L537.4 292.8L537.5 293.6L538 294.4L539.2 295.1L541.7 295.8L544.5 296.5L546.1 297.4L546.7 298.5L546.9 299.5L546.9 300.6L546.7 301.6L546.1 302.6L544.5 303.5L541.8 304.2L539.2 304.8L537.9 305.5L537.4 306.2L537.2 307.1L537.4 308L538.3 309.1L540.3 310.6L542.6 312.3L543.8 313.7L544 314.9L543.8 316L543.4 316.9L542.9 317.8L541.9 318.6L540.2 318.8L537.3 318.5L534.8 318.1L533.3 318.3L532.5 318.8L532 319.5L531.9 320.4L532.3 321.8L533.7 323.9L535.2 326.4L535.8 328.1L535.6 329.3L535 330.2L534.3 331L533.4 331.6L532.3 332L530.5 331.6L528 330.2L525.8 329L524.3 328.6L523.4 328.8L522.7 329.3L522.2 330.1L522.1 331.5L522.6 334L523.2 336.8L523.1 338.7L522.5 339.7L521.6 340.3L520.7 340.8L519.6 341.1L518.5 341L517 340L515.1 337.8L513.5 335.8L512.3 334.9L511.3 334.8L510.5 335L509.8 335.6L509.2 336.9L508.7 339.4L508.3 342.2L507.5 343.9L506.5 344.6L505.5 344.9L504.5 345L503.4 344.9L502.3 344.4L501.3 342.9L500.4 340.2L499.5 337.8L498.7 336.5L497.9 336L497.1 335.9L496.2 336.2L495.2 337.2L493.9 339.4L492.4 341.8L491 343.1L489.9 343.4L488.8 343.3L487.8 343L486.9 342.6L486.1 341.7L485.6 340L485.7 337.1L485.8 334.5L485.5 333.1L484.9 332.3L484.2 331.9L483.3 331.9L482 332.4L480 334L477.7 335.7L476 336.5L474.8 336.4L473.8 335.9L473 335.2L472.3 334.4L471.8 333.4L472.1 331.6L473.2 329L474.2 326.6L474.5 325.1L474.2 324.2L473.6 323.6L472.8 323.2L471.4 323.2L468.9 323.9L466.2 324.8L464.3 324.8L463.3 324.3L462.5 323.5L462 322.6L461.6 321.6L461.6 320.4L462.4 318.8L464.4 316.8L466.3 315L467 313.7" fill="none" stroke="#000" stroke-width="1.2" stroke-linecap="round" stroke-linejoin="round" stroke-dasharray="2.8 3.6 3.4 3.8 2 3.2 3 4.2"/>
<circle cx="500.8" cy="299.4" r="31.7" fill="#fff" stroke="#000" stroke-width="1.1" />
<circle cx="501.6" cy="299.4" r="24.2" fill="none" stroke="#000" stroke-width="1.6" stroke-dasharray="5.2 7.47"/>
<circle cx="501.5" cy="299.4" r="26.3" fill="none" stroke="#000" stroke-width="0.9" />
<circle cx="501.3" cy="299.3" r="20.6" fill="none" stroke="#000" stroke-width="0.9" />
<circle cx="501.8" cy="299.4" r="14.7" fill="none" stroke="#000" stroke-width="0.9" />
<circle cx="501.9" cy="299.4" r="9.8" fill="none" stroke="#000" stroke-width="0.9" />
<circle cx="502" cy="299.4" r="6" fill="none" stroke="#000" stroke-width="0.9" />
<circle cx="502" cy="299.4" r="2.7" fill="none" stroke="#000" stroke-width="1.6" />
</g>
<g id="dots">
<circle cx="366.2" cy="221.4" r="2.4" fill="#fff" stroke="#000" stroke-width="1.4" />
<circle cx="504.2" cy="200.2" r="2.5" fill="#fff" stroke="#000" stroke-width="1.4" />
<circle cx="474.7" cy="250.6" r="2.5" fill="#fff" stroke="#000" stroke-width="1.4" />
<circle cx="606.3" cy="211.2" r="2.6" fill="#fff" stroke="#000" stroke-width="1.4" />
<circle cx="628.7" cy="218.7" r="2.4" fill="#fff" stroke="#000" stroke-width="1.4" />
</g>
<g id="callouts" font-family="'Liberation Sans', sans-serif" font-size="23.5" text-anchor="middle">
<path d="M259.7 30.3L370 128" stroke="#fff" stroke-width="4.2" fill="none"/>
<path d="M259.7 30.3L370 128" stroke="#000" stroke-width="1.2" fill="none"/>
<path d="M692 46.3L602.3 141.2" stroke="#fff" stroke-width="4.2" fill="none"/>
<path d="M692 46.3L602.3 141.2" stroke="#000" stroke-width="1.2" fill="none"/>
<path d="M808 177.8L738 206.1" stroke="#fff" stroke-width="4.2" fill="none"/>
<path d="M808 177.8L738 206.1" stroke="#000" stroke-width="1.2" fill="none"/>
<path d="M191.2 303.6L259.9 274.3" stroke="#fff" stroke-width="4.2" fill="none"/>
<path d="M191.2 303.6L259.9 274.3" stroke="#000" stroke-width="1.2" fill="none"/>
<path d="M623.2 351.3L547.2 302.4" stroke="#fff" stroke-width="4.2" fill="none"/>
<path d="M623.2 351.3L547.2 302.4" stroke="#000" stroke-width="1.2" fill="none"/>
<circle cx="259.7" cy="30.3" r="18.6" fill="#fff" stroke="#000" stroke-width="1.1" />
<text x="259.7" y="38.7" filter="url(#ga)">2</text>
<circle cx="692" cy="46.3" r="18.6" fill="#fff" stroke="#000" stroke-width="1.1" />
<text x="692" y="54.7" filter="url(#ga)">3</text>
<circle cx="808" cy="177.8" r="18.6" fill="#fff" stroke="#000" stroke-width="1.1" />
<text x="808" y="186.2" filter="url(#ga)">4</text>
<circle cx="191.2" cy="303.6" r="18.6" fill="#fff" stroke="#000" stroke-width="1.1" />
<text x="191.2" y="312" filter="url(#ga)">1</text>
<circle cx="623.2" cy="351.3" r="18.6" fill="#fff" stroke="#000" stroke-width="1.1" />
<text x="623.2" y="359.7" filter="url(#ga)">A</text>
</g>
<text x="16.6" y="25" filter="url(#ga)" font-family="'Liberation Sans', sans-serif" font-size="12.6" textLength="48.6" lengthAdjust="spacingAndGlyphs">is06521</text>
</svg>
</body>
</html>
